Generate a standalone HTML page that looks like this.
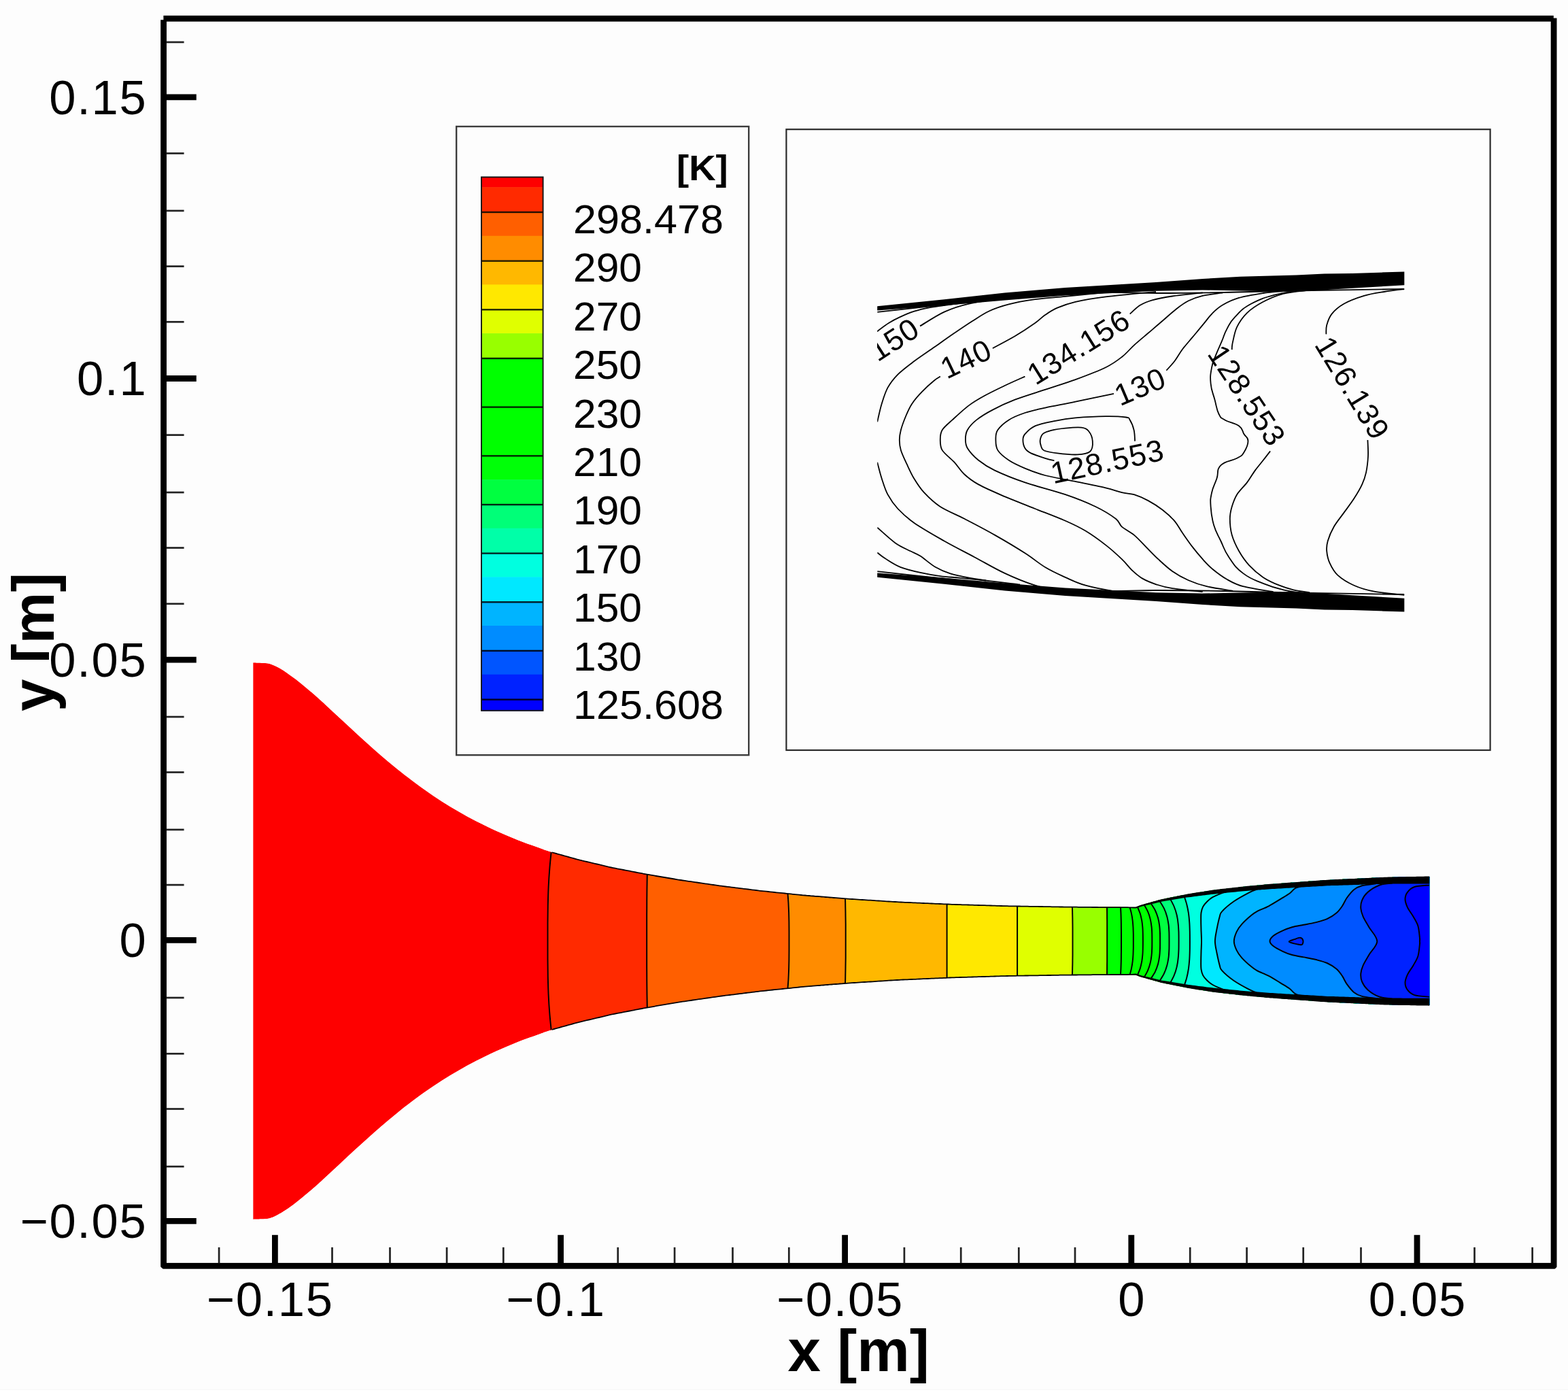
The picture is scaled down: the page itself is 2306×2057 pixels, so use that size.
<!DOCTYPE html>
<html lang="en"><head><meta charset="utf-8"><title>Nozzle temperature contours</title>
<style>html,body{margin:0;padding:0;background:#fdfdfd;overflow:hidden;width:2306px;height:2057px}svg{display:block;filter:blur(0.65px)}text{font-family:"Liberation Sans",Arial,Helvetica,sans-serif;fill:#000}.b{font-weight:bold}</style></head><body>
<svg width="2306" height="2057" viewBox="0 0 2306 2057" role="img" aria-label="Temperature contours in a converging-diverging nozzle">
<rect width="2306" height="2057" fill="#fdfdfd"/>
<rect x="0" y="2042.4" width="2306" height="1.6" fill="#f8f8f8"/>
<rect x="0" y="2044" width="2306" height="13" fill="#fff"/>
<defs><clipPath id="noz"><path d="M372.2 974.3 C374.2 974.4 380 974.5 384 974.7 C388 975 392 974.8 396 975.8 C400 976.8 404 978.8 408 980.8 C412 982.8 415.5 984.9 420 987.9 C424.5 990.9 430 995 435 998.8 C440 1002.6 445 1006.7 450 1010.9 C455 1015.1 460 1019.4 465 1023.8 C470 1028.2 474.2 1032 480 1037.4 C485.8 1042.8 493.3 1049.8 500 1056 C506.7 1062.2 513.3 1068.5 520 1074.6 C526.7 1080.7 533.3 1086.8 540 1092.8 C546.7 1098.8 553.3 1104.7 560 1110.4 C566.7 1116.1 573.3 1121.8 580 1127.2 C586.7 1132.7 592.5 1137.4 600 1143.1 C607.5 1148.8 616.7 1155.7 625 1161.6 C633.3 1167.5 641.7 1173.1 650 1178.4 C658.3 1183.7 666.7 1188.7 675 1193.5 C683.3 1198.3 690.8 1202.5 700 1207.2 C709.2 1211.9 720 1217.2 730 1221.7 C740 1226.2 750 1230.5 760 1234.5 C770 1238.5 781.5 1242.5 790 1245.5 C798.5 1248.5 801 1249.8 811 1252.8 C821 1255.8 835.2 1259.8 850 1263.6 C864.8 1267.4 883.3 1271.8 900 1275.4 C916.7 1279 933.3 1282.1 950 1285.1 C966.7 1288.1 981.7 1290.7 1000 1293.6 C1018.3 1296.5 1040 1299.6 1060 1302.3 C1080 1305 1100 1307.4 1120 1309.7 C1140 1312 1159.2 1314 1180 1315.9 C1200.8 1317.8 1221.7 1319.5 1245 1321.2 C1268.3 1322.9 1294.2 1324.6 1320 1326 C1345.8 1327.4 1373.3 1328.5 1400 1329.5 C1426.7 1330.5 1453.3 1331.3 1480 1331.9 C1506.7 1332.5 1536.7 1332.9 1560 1333.2 C1583.3 1333.5 1601.5 1333.7 1620 1333.8 C1638.5 1333.9 1662.5 1334 1671 1334 L1671 1334 C1672.2 1333.5 1671.8 1333.1 1678 1331.2 C1684.2 1329.3 1697.2 1325.4 1708.4 1322.7 C1719.7 1320 1733.1 1317.5 1745.5 1315.3 C1757.9 1313.1 1769 1311.1 1782.6 1309.3 C1796.2 1307.5 1813.1 1305.7 1827 1304.2 C1840.9 1302.8 1845 1302.2 1865.8 1300.6 C1886.6 1298.9 1923 1296 1951.6 1294.3 C1980.2 1292.6 2012.2 1291.2 2037.3 1290.3 C2062.4 1289.4 2091.4 1289.3 2102.2 1289.1 L2102.2 1478.1 C2091.4 1477.9 2062.4 1477.8 2037.3 1476.9 C2012.2 1476 1980.2 1474.6 1951.6 1472.9 C1923 1471.2 1886.6 1468.2 1865.8 1466.6 C1845 1464.9 1840.9 1464.4 1827 1463 C1813.1 1461.5 1796.2 1459.7 1782.6 1457.9 C1769 1456 1757.9 1454.1 1745.5 1451.9 C1733.1 1449.7 1719.7 1447.1 1708.4 1444.5 C1697.2 1441.8 1684.2 1437.9 1678 1436 C1671.8 1434.1 1672.2 1433.7 1671 1433.2 L1671 1433.2 C1662.5 1433.2 1638.5 1433.3 1620 1433.4 C1601.5 1433.5 1583.3 1433.7 1560 1434 C1536.7 1434.3 1506.7 1434.7 1480 1435.3 C1453.3 1435.9 1426.7 1436.7 1400 1437.7 C1373.3 1438.7 1345.8 1439.8 1320 1441.2 C1294.2 1442.6 1268.3 1444.3 1245 1446 C1221.7 1447.7 1200.8 1449.4 1180 1451.3 C1159.2 1453.2 1140 1455.2 1120 1457.5 C1100 1459.8 1080 1462.2 1060 1464.9 C1040 1467.6 1018.3 1470.7 1000 1473.6 C981.7 1476.5 966.7 1479.1 950 1482.1 C933.3 1485.1 916.7 1488.2 900 1491.8 C883.3 1495.4 864.8 1499.8 850 1503.6 C835.2 1507.4 821 1511.4 811 1514.4 C801 1517.4 798.5 1518.6 790 1521.7 C781.5 1524.7 770 1528.7 760 1532.7 C750 1536.7 740 1540.9 730 1545.5 C720 1550 709.2 1555.3 700 1560 C690.8 1564.7 683.3 1568.9 675 1573.7 C666.7 1578.5 658.3 1583.5 650 1588.8 C641.7 1594.1 633.3 1599.7 625 1605.6 C616.7 1611.5 607.5 1618.4 600 1624.1 C592.5 1629.8 586.7 1634.5 580 1640 C573.3 1645.4 566.7 1651.1 560 1656.8 C553.3 1662.5 546.7 1668.4 540 1674.4 C533.3 1680.4 526.7 1686.5 520 1692.6 C513.3 1698.7 506.7 1705 500 1711.2 C493.3 1717.4 485.8 1724.4 480 1729.8 C474.2 1735.2 470 1739 465 1743.4 C460 1747.8 455 1752.1 450 1756.3 C445 1760.5 440 1764.6 435 1768.4 C430 1772.2 424.5 1776.3 420 1779.3 C415.5 1782.3 412 1784.4 408 1786.4 C404 1788.4 400 1790.4 396 1791.4 C392 1792.4 388 1792.2 384 1792.5 C380 1792.7 374.2 1792.8 372.2 1792.9Z"/></clipPath></defs>
<g clip-path="url(#noz)">
<path d="M372.2 974.3 C374.2 974.4 380 974.5 384 974.7 C388 975 392 974.8 396 975.8 C400 976.8 404 978.8 408 980.8 C412 982.8 415.5 984.9 420 987.9 C424.5 990.9 430 995 435 998.8 C440 1002.6 445 1006.7 450 1010.9 C455 1015.1 460 1019.4 465 1023.8 C470 1028.2 474.2 1032 480 1037.4 C485.8 1042.8 493.3 1049.8 500 1056 C506.7 1062.2 513.3 1068.5 520 1074.6 C526.7 1080.7 533.3 1086.8 540 1092.8 C546.7 1098.8 553.3 1104.7 560 1110.4 C566.7 1116.1 573.3 1121.8 580 1127.2 C586.7 1132.7 592.5 1137.4 600 1143.1 C607.5 1148.8 616.7 1155.7 625 1161.6 C633.3 1167.5 641.7 1173.1 650 1178.4 C658.3 1183.7 666.7 1188.7 675 1193.5 C683.3 1198.3 690.8 1202.5 700 1207.2 C709.2 1211.9 720 1217.2 730 1221.7 C740 1226.2 750 1230.5 760 1234.5 C770 1238.5 781.5 1242.5 790 1245.5 C798.5 1248.5 801 1249.8 811 1252.8 C821 1255.8 835.2 1259.8 850 1263.6 C864.8 1267.4 883.3 1271.8 900 1275.4 C916.7 1279 933.3 1282.1 950 1285.1 C966.7 1288.1 981.7 1290.7 1000 1293.6 C1018.3 1296.5 1040 1299.6 1060 1302.3 C1080 1305 1100 1307.4 1120 1309.7 C1140 1312 1159.2 1314 1180 1315.9 C1200.8 1317.8 1221.7 1319.5 1245 1321.2 C1268.3 1322.9 1294.2 1324.6 1320 1326 C1345.8 1327.4 1373.3 1328.5 1400 1329.5 C1426.7 1330.5 1453.3 1331.3 1480 1331.9 C1506.7 1332.5 1536.7 1332.9 1560 1333.2 C1583.3 1333.5 1601.5 1333.7 1620 1333.8 C1638.5 1333.9 1662.5 1334 1671 1334 L1671 1334 C1672.2 1333.5 1671.8 1333.1 1678 1331.2 C1684.2 1329.3 1697.2 1325.4 1708.4 1322.7 C1719.7 1320 1733.1 1317.5 1745.5 1315.3 C1757.9 1313.1 1769 1311.1 1782.6 1309.3 C1796.2 1307.5 1813.1 1305.7 1827 1304.2 C1840.9 1302.8 1845 1302.2 1865.8 1300.6 C1886.6 1298.9 1923 1296 1951.6 1294.3 C1980.2 1292.6 2012.2 1291.2 2037.3 1290.3 C2062.4 1289.4 2091.4 1289.3 2102.2 1289.1 L2102.2 1478.1 C2091.4 1477.9 2062.4 1477.8 2037.3 1476.9 C2012.2 1476 1980.2 1474.6 1951.6 1472.9 C1923 1471.2 1886.6 1468.2 1865.8 1466.6 C1845 1464.9 1840.9 1464.4 1827 1463 C1813.1 1461.5 1796.2 1459.7 1782.6 1457.9 C1769 1456 1757.9 1454.1 1745.5 1451.9 C1733.1 1449.7 1719.7 1447.1 1708.4 1444.5 C1697.2 1441.8 1684.2 1437.9 1678 1436 C1671.8 1434.1 1672.2 1433.7 1671 1433.2 L1671 1433.2 C1662.5 1433.2 1638.5 1433.3 1620 1433.4 C1601.5 1433.5 1583.3 1433.7 1560 1434 C1536.7 1434.3 1506.7 1434.7 1480 1435.3 C1453.3 1435.9 1426.7 1436.7 1400 1437.7 C1373.3 1438.7 1345.8 1439.8 1320 1441.2 C1294.2 1442.6 1268.3 1444.3 1245 1446 C1221.7 1447.7 1200.8 1449.4 1180 1451.3 C1159.2 1453.2 1140 1455.2 1120 1457.5 C1100 1459.8 1080 1462.2 1060 1464.9 C1040 1467.6 1018.3 1470.7 1000 1473.6 C981.7 1476.5 966.7 1479.1 950 1482.1 C933.3 1485.1 916.7 1488.2 900 1491.8 C883.3 1495.4 864.8 1499.8 850 1503.6 C835.2 1507.4 821 1511.4 811 1514.4 C801 1517.4 798.5 1518.6 790 1521.7 C781.5 1524.7 770 1528.7 760 1532.7 C750 1536.7 740 1540.9 730 1545.5 C720 1550 709.2 1555.3 700 1560 C690.8 1564.7 683.3 1568.9 675 1573.7 C666.7 1578.5 658.3 1583.5 650 1588.8 C641.7 1594.1 633.3 1599.7 625 1605.6 C616.7 1611.5 607.5 1618.4 600 1624.1 C592.5 1629.8 586.7 1634.5 580 1640 C573.3 1645.4 566.7 1651.1 560 1656.8 C553.3 1662.5 546.7 1668.4 540 1674.4 C533.3 1680.4 526.7 1686.5 520 1692.6 C513.3 1698.7 506.7 1705 500 1711.2 C493.3 1717.4 485.8 1724.4 480 1729.8 C474.2 1735.2 470 1739 465 1743.4 C460 1747.8 455 1752.1 450 1756.3 C445 1760.5 440 1764.6 435 1768.4 C430 1772.2 424.5 1776.3 420 1779.3 C415.5 1782.3 412 1784.4 408 1786.4 C404 1788.4 400 1790.4 396 1791.4 C392 1792.4 388 1792.2 384 1792.5 C380 1792.7 374.2 1792.8 372.2 1792.9Z" fill="#fe0000"/>
<path d="M810.7 1252.7 C810.3 1257.1 808.8 1270.1 808.2 1278.9 C807.5 1287.6 807 1296.3 806.6 1305.1 C806.2 1313.8 806 1322.5 805.8 1331.2 C805.7 1340 805.6 1348.7 805.5 1357.4 C805.5 1366.1 805.5 1374.9 805.5 1383.6 C805.5 1392.3 805.5 1401.1 805.5 1409.8 C805.6 1418.5 805.7 1427.2 805.8 1436 C806 1444.7 806.2 1453.4 806.6 1462.1 C807 1470.9 807.5 1479.6 808.2 1488.3 C808.8 1497.1 810.3 1510.1 810.7 1514.5 L810.7 1650 L2200 1650 L2200 1150 L810.7 1150 Z" fill="#ff2a00"/>
<path d="M951.8 1285.4 C951.8 1288.7 951.6 1298.5 951.5 1305 C951.4 1311.6 951.4 1318.1 951.3 1324.7 C951.3 1331.2 951.3 1337.8 951.2 1344.3 C951.2 1350.9 951.2 1357.4 951.2 1364 C951.2 1370.5 951.2 1377.1 951.2 1383.6 C951.2 1390.1 951.2 1396.7 951.2 1403.2 C951.2 1409.8 951.2 1416.3 951.2 1422.9 C951.3 1429.4 951.3 1436 951.3 1442.5 C951.4 1449.1 951.4 1455.6 951.5 1462.2 C951.6 1468.7 951.8 1478.5 951.8 1481.8 L951.8 1650 L2200 1650 L2200 1150 L951.8 1150 Z" fill="#ff5f00"/>
<path d="M1158.5 1313.7 C1158.7 1316 1159.2 1323 1159.5 1327.7 C1159.7 1332.3 1159.9 1337 1160.1 1341.6 C1160.2 1346.3 1160.3 1351 1160.4 1355.6 C1160.4 1360.3 1160.5 1365 1160.5 1369.6 C1160.5 1374.3 1160.5 1378.9 1160.5 1383.6 C1160.5 1388.3 1160.5 1392.9 1160.5 1397.6 C1160.5 1402.2 1160.4 1406.9 1160.4 1411.6 C1160.3 1416.2 1160.2 1420.9 1160.1 1425.6 C1159.9 1430.2 1159.7 1434.9 1159.5 1439.5 C1159.2 1444.2 1158.7 1451.2 1158.5 1453.5 L1158.5 1650 L2200 1650 L2200 1150 L1158.5 1150 Z" fill="#ff8c00"/>
<path d="M1243 1321 C1243.1 1323.1 1243.3 1329.4 1243.3 1333.5 C1243.4 1337.7 1243.5 1341.9 1243.5 1346.1 C1243.6 1350.2 1243.6 1354.4 1243.7 1358.6 C1243.7 1362.7 1243.7 1366.9 1243.7 1371.1 C1243.7 1375.3 1243.7 1379.4 1243.7 1383.6 C1243.7 1387.8 1243.7 1391.9 1243.7 1396.1 C1243.7 1400.3 1243.7 1404.5 1243.7 1408.6 C1243.6 1412.8 1243.6 1417 1243.5 1421.1 C1243.5 1425.3 1243.4 1429.5 1243.3 1433.7 C1243.3 1437.8 1243.1 1444.1 1243 1446.2 L1243 1650 L2200 1650 L2200 1150 L1243 1150 Z" fill="#ffb800"/>
<path d="M1392.6 1329.2 C1392.6 1331 1392.6 1336.4 1392.6 1340.1 C1392.6 1343.7 1392.6 1347.3 1392.6 1350.9 C1392.6 1354.6 1392.6 1358.2 1392.6 1361.8 C1392.6 1365.5 1392.6 1369.1 1392.6 1372.7 C1392.6 1376.3 1392.6 1380 1392.6 1383.6 C1392.6 1387.2 1392.6 1390.9 1392.6 1394.5 C1392.6 1398.1 1392.6 1401.7 1392.6 1405.4 C1392.6 1409 1392.6 1412.6 1392.6 1416.3 C1392.6 1419.9 1392.6 1423.5 1392.6 1427.1 C1392.6 1430.8 1392.6 1436.2 1392.6 1438 L1392.6 1650 L2200 1650 L2200 1150 L1392.6 1150 Z" fill="#ffe800"/>
<path d="M1496.1 1332.2 C1496.1 1333.9 1496.1 1339 1496.1 1342.4 C1496.1 1345.9 1496.1 1349.3 1496.1 1352.7 C1496.1 1356.2 1496.1 1359.6 1496.1 1363 C1496.1 1366.5 1496.1 1369.9 1496.1 1373.3 C1496.1 1376.7 1496.1 1380.2 1496.1 1383.6 C1496.1 1387 1496.1 1390.5 1496.1 1393.9 C1496.1 1397.3 1496.1 1400.7 1496.1 1404.2 C1496.1 1407.6 1496.1 1411 1496.1 1414.5 C1496.1 1417.9 1496.1 1421.3 1496.1 1424.8 C1496.1 1428.2 1496.1 1433.3 1496.1 1435 L1496.1 1650 L2200 1650 L2200 1150 L1496.1 1150 Z" fill="#e0ff00"/>
<path d="M1577 1333.4 C1577 1335 1577.2 1340.1 1577.2 1343.4 C1577.3 1346.8 1577.4 1350.1 1577.4 1353.5 C1577.4 1356.8 1577.5 1360.2 1577.5 1363.5 C1577.5 1366.9 1577.5 1370.2 1577.5 1373.6 C1577.5 1376.9 1577.5 1380.3 1577.5 1383.6 C1577.5 1386.9 1577.5 1390.3 1577.5 1393.6 C1577.5 1397 1577.5 1400.3 1577.5 1403.7 C1577.5 1407 1577.4 1410.4 1577.4 1413.7 C1577.4 1417.1 1577.3 1420.4 1577.2 1423.8 C1577.2 1427.1 1577 1432.2 1577 1433.8 L1577 1650 L2200 1650 L2200 1150 L1577 1150 Z" fill="#98ff00"/>
<path d="M1628 1333.8 C1628 1335.5 1628.1 1340.5 1628.1 1343.8 C1628.1 1347.1 1628.1 1350.4 1628.2 1353.7 C1628.2 1357.1 1628.2 1360.4 1628.2 1363.7 C1628.2 1367 1628.2 1370.3 1628.2 1373.6 C1628.2 1377 1628.2 1380.3 1628.2 1383.6 C1628.2 1386.9 1628.2 1390.2 1628.2 1393.6 C1628.2 1396.9 1628.2 1400.2 1628.2 1403.5 C1628.2 1406.8 1628.2 1410.1 1628.2 1413.5 C1628.1 1416.8 1628.1 1420.1 1628.1 1423.4 C1628.1 1426.7 1628 1431.7 1628 1433.4 L1628 1650 L2200 1650 L2200 1150 L1628 1150 Z" fill="#00ff00"/>
<path d="M1648 1333.9 C1648.1 1335.6 1648.4 1340.5 1648.5 1343.8 C1648.6 1347.2 1648.7 1350.5 1648.8 1353.8 C1648.9 1357.1 1648.9 1360.4 1648.9 1363.7 C1649 1367 1649 1370.3 1649 1373.7 C1649 1377 1649 1380.3 1649 1383.6 C1649 1386.9 1649 1390.2 1649 1393.5 C1649 1396.9 1649 1400.2 1648.9 1403.5 C1648.9 1406.8 1648.9 1410.1 1648.8 1413.4 C1648.7 1416.7 1648.6 1420 1648.5 1423.4 C1648.4 1426.7 1648.1 1431.6 1648 1433.3 L1648 1650 L2200 1650 L2200 1150 L1648 1150 Z" fill="#00ff00"/>
<path d="M1661.6 1334 C1662 1335.6 1663.5 1340.6 1664.1 1343.9 C1664.8 1347.2 1665.3 1350.5 1665.7 1353.8 C1666.1 1357.1 1666.3 1360.4 1666.5 1363.7 C1666.6 1367.1 1666.7 1370.4 1666.8 1373.7 C1666.8 1377 1666.8 1380.3 1666.8 1383.6 C1666.8 1386.9 1666.8 1390.2 1666.8 1393.5 C1666.7 1396.8 1666.6 1400.1 1666.5 1403.5 C1666.3 1406.8 1666.1 1410.1 1665.7 1413.4 C1665.3 1416.7 1664.8 1420 1664.1 1423.3 C1663.5 1426.6 1662 1431.6 1661.6 1433.2 L1661.6 1650 L2200 1650 L2200 1150 L1661.6 1150 Z" fill="#00ff00"/>
<path d="M1672.8 1333.3 C1673.5 1335 1675.7 1340 1676.8 1343.3 C1677.8 1346.7 1678.5 1350.1 1679.2 1353.4 C1679.8 1356.8 1680.1 1360.1 1680.4 1363.5 C1680.7 1366.8 1680.7 1370.2 1680.8 1373.5 C1680.9 1376.9 1680.9 1380.2 1680.9 1383.6 C1680.9 1387 1680.9 1390.3 1680.8 1393.7 C1680.7 1397 1680.7 1400.4 1680.4 1403.7 C1680.1 1407.1 1679.8 1410.4 1679.2 1413.8 C1678.5 1417.1 1677.8 1420.5 1676.8 1423.9 C1675.7 1427.2 1673.5 1432.2 1672.8 1433.9 L1672.8 1650 L2200 1650 L2200 1150 L1672.8 1150 Z" fill="#00ff00"/>
<path d="M1682.4 1330 C1683.4 1331.8 1686.7 1337.1 1688.2 1340.7 C1689.8 1344.3 1690.8 1347.8 1691.7 1351.4 C1692.6 1355 1693.1 1358.6 1693.5 1362.1 C1694 1365.7 1694.1 1369.3 1694.2 1372.9 C1694.3 1376.4 1694.3 1380 1694.3 1383.6 C1694.3 1387.2 1694.3 1390.8 1694.2 1394.3 C1694.1 1397.9 1694 1401.5 1693.5 1405.1 C1693.1 1408.6 1692.6 1412.2 1691.7 1415.8 C1690.8 1419.4 1689.8 1422.9 1688.2 1426.5 C1686.7 1430.1 1683.4 1435.4 1682.4 1437.2 L1682.4 1650 L2200 1650 L2200 1150 L1682.4 1150 Z" fill="#00ff08"/>
<path d="M1692 1327.3 C1693.1 1329.2 1697 1334.8 1698.9 1338.5 C1700.7 1342.3 1702 1346.1 1703.1 1349.8 C1704.1 1353.6 1704.7 1357.3 1705.2 1361.1 C1705.7 1364.8 1705.8 1368.6 1706 1372.3 C1706.1 1376.1 1706.1 1379.8 1706.1 1383.6 C1706.1 1387.4 1706.1 1391.1 1706 1394.9 C1705.8 1398.6 1705.7 1402.4 1705.2 1406.1 C1704.7 1409.9 1704.1 1413.6 1703.1 1417.4 C1702 1421.1 1700.7 1424.9 1698.9 1428.7 C1697 1432.4 1693.1 1438 1692 1439.9 L1692 1650 L2200 1650 L2200 1150 L1692 1150 Z" fill="#00ff40"/>
<path d="M1704.7 1323.7 C1705.9 1325.7 1710 1331.7 1711.9 1335.7 C1713.9 1339.7 1715.2 1343.7 1716.3 1347.7 C1717.4 1351.7 1718 1355.7 1718.6 1359.7 C1719.1 1363.6 1719.2 1367.6 1719.4 1371.6 C1719.5 1375.6 1719.5 1379.6 1719.5 1383.6 C1719.5 1387.6 1719.5 1391.6 1719.4 1395.6 C1719.2 1399.6 1719.1 1403.6 1718.6 1407.5 C1718 1411.5 1717.4 1415.5 1716.3 1419.5 C1715.2 1423.5 1713.9 1427.5 1711.9 1431.5 C1710 1435.5 1705.9 1441.5 1704.7 1443.5 L1704.7 1650 L2200 1650 L2200 1150 L1704.7 1150 Z" fill="#00ff78"/>
<path d="M1720.2 1320.3 C1721.3 1322.5 1725 1328.8 1726.7 1333 C1728.5 1337.2 1729.7 1341.4 1730.7 1345.6 C1731.7 1349.9 1732.3 1354.1 1732.7 1358.3 C1733.2 1362.5 1733.3 1366.7 1733.5 1370.9 C1733.6 1375.2 1733.6 1379.4 1733.6 1383.6 C1733.6 1387.8 1733.6 1392 1733.5 1396.3 C1733.3 1400.5 1733.2 1404.7 1732.7 1408.9 C1732.3 1413.1 1731.7 1417.3 1730.7 1421.6 C1729.7 1425.8 1728.5 1430 1726.7 1434.2 C1725 1438.4 1721.3 1444.7 1720.2 1446.9 L1720.2 1650 L2200 1650 L2200 1150 L1720.2 1150 Z" fill="#00ffa8"/>
<path d="M1741 1316.2 C1741.7 1318.4 1744.2 1325.2 1745.3 1329.7 C1746.5 1334.2 1747.3 1338.7 1748 1343.2 C1748.6 1347.7 1749 1352.1 1749.3 1356.6 C1749.6 1361.1 1749.7 1365.6 1749.8 1370.1 C1749.9 1374.6 1749.9 1379.1 1749.9 1383.6 C1749.9 1388.1 1749.9 1392.6 1749.8 1397.1 C1749.7 1401.6 1749.6 1406.1 1749.3 1410.6 C1749 1415.1 1748.6 1419.5 1748 1424 C1747.3 1428.5 1746.5 1433 1745.3 1437.5 C1744.2 1442 1741.7 1448.8 1741 1451 L1741 1650 L2200 1650 L2200 1150 L1741 1150 Z" fill="#00ffe0"/>
<path d="M1803.3 1310.8 C1801.3 1311.6 1794.9 1313.8 1791.5 1315.3 C1788 1316.8 1785.3 1318 1782.6 1319.7 C1779.8 1321.5 1777.4 1323.4 1775.1 1325.7 C1772.9 1327.9 1770.6 1330.4 1769.2 1333.1 C1767.8 1335.8 1767 1338.5 1766.5 1342 C1766 1345.5 1766.2 1349.4 1766.2 1353.9 C1766.2 1358.3 1766.4 1363.7 1766.5 1368.7 C1766.7 1373.7 1767 1378.9 1767 1383.8 C1767 1388.8 1766.7 1393.6 1766.5 1398.5 C1766.4 1403.4 1766.2 1408.9 1766.2 1413.3 C1766.2 1417.8 1766 1421.7 1766.5 1425.2 C1767 1428.7 1767.8 1431.4 1769.2 1434.1 C1770.6 1436.8 1772.9 1439.3 1775.1 1441.5 C1777.4 1443.8 1779.8 1445.7 1782.6 1447.5 C1785.3 1449.2 1788 1450.4 1791.5 1451.9 C1794.9 1453.4 1801.3 1455.6 1803.3 1456.4 L1803.3 1650 L2200 1650 L2200 1150 L1803.3 1150 Z" fill="#00e8ff"/>
<path d="M1860.6 1304.6 C1858.6 1305 1852.6 1306.1 1848.6 1307.5 C1844.6 1308.8 1842.3 1309.6 1836.6 1312.6 C1830.9 1315.6 1820.9 1320.9 1814.3 1325.5 C1807.7 1330.1 1800.6 1336.3 1797.2 1340.1 C1793.7 1343.8 1795 1343.4 1793.7 1347.8 C1792.4 1352.2 1790.6 1360.6 1789.4 1366.7 C1788.3 1372.7 1786.9 1378.3 1786.9 1384 C1786.9 1389.6 1788.3 1394.6 1789.4 1400.5 C1790.6 1406.4 1792.4 1415 1793.7 1419.4 C1795 1423.8 1793.7 1423.4 1797.2 1427.1 C1800.6 1430.9 1807.7 1437.1 1814.3 1441.7 C1820.9 1446.3 1830.9 1451.6 1836.6 1454.6 C1842.3 1457.6 1844.6 1458.4 1848.6 1459.7 C1852.6 1461.1 1858.6 1462.2 1860.6 1462.6 L1860.6 1650 L2200 1650 L2200 1150 L1860.6 1150 Z" fill="#00b4ff"/>
<path d="M1931 1300.1 C1928.7 1300.5 1921.5 1301.4 1917.2 1302.3 C1913 1303.3 1908.7 1303.9 1905.2 1305.8 C1901.8 1307.6 1900.4 1310.8 1896.7 1313.5 C1892.9 1316.2 1888.1 1318.9 1882.9 1322.1 C1877.8 1325.2 1871.5 1329.3 1865.8 1332.3 C1860.1 1335.3 1852.9 1337.8 1848.6 1340.1 C1844.3 1342.4 1843.8 1342.9 1840 1346.1 C1836.3 1349.2 1829.9 1354.9 1826.3 1358.9 C1822.7 1362.9 1820.5 1365.9 1818.6 1370.1 C1816.7 1374.3 1814.8 1379.5 1814.8 1384 C1814.8 1388.5 1816.7 1393.1 1818.6 1397.1 C1820.5 1401.2 1822.7 1404.3 1826.3 1408.3 C1829.9 1412.3 1836.3 1418 1840 1421.1 C1843.8 1424.3 1844.3 1424.8 1848.6 1427.1 C1852.9 1429.4 1860.1 1431.9 1865.8 1434.9 C1871.5 1437.9 1877.8 1442 1882.9 1445.1 C1888.1 1448.3 1892.9 1451 1896.7 1453.7 C1900.4 1456.4 1901.8 1459.6 1905.2 1461.4 C1908.7 1463.3 1913 1463.9 1917.2 1464.9 C1921.5 1465.8 1928.7 1466.7 1931 1467.1 L1931 1650 L2200 1650 L2200 1150 L1931 1150 Z" fill="#008cff"/>
<path d="M2023.6 1299.2 C2020.2 1299.8 2008.5 1300.8 2003 1302.3 C1997.6 1303.8 1994.7 1305.3 1991 1308.3 C1987.3 1311.3 1983.6 1316.3 1980.7 1320.3 C1977.9 1324.3 1976.4 1328.6 1973.9 1332.3 C1971.3 1336.1 1969 1339.5 1965.3 1342.6 C1961.6 1345.8 1956.7 1348.9 1951.6 1351.2 C1946.4 1353.5 1940.1 1354.9 1934.4 1356.4 C1928.7 1357.8 1923 1358.7 1917.2 1359.8 C1911.5 1360.9 1905.2 1361.8 1900.1 1363.2 C1894.9 1364.7 1890.9 1366.2 1886.4 1368.4 C1881.8 1370.5 1875.8 1373.5 1872.6 1376.1 C1869.5 1378.7 1867.5 1381.5 1867.5 1384 C1867.5 1386.5 1869.5 1388.6 1872.6 1391.1 C1875.8 1393.6 1881.8 1396.7 1886.4 1398.8 C1890.9 1401 1894.9 1402.5 1900.1 1404 C1905.2 1405.4 1911.5 1406.3 1917.2 1407.4 C1923 1408.5 1928.7 1409.4 1934.4 1410.8 C1940.1 1412.3 1946.4 1413.7 1951.6 1416 C1956.7 1418.3 1961.6 1421.4 1965.3 1424.6 C1969 1427.7 1971.3 1431.1 1973.9 1434.9 C1976.4 1438.6 1977.9 1442.9 1980.7 1446.9 C1983.6 1450.9 1987.3 1455.9 1991 1458.9 C1994.7 1461.9 1997.6 1463.4 2003 1464.9 C2008.5 1466.4 2020.2 1467.4 2023.6 1468 L2023.6 1650 L2200 1650 L2200 1150 L2023.6 1150 Z" fill="#0055ff"/>
<path d="M2047.6 1298.6 C2044.5 1299 2034.8 1299.3 2028.8 1301.5 C2022.8 1303.7 2015.9 1308 2011.6 1311.8 C2007.3 1315.5 2004.7 1319.8 2003 1323.8 C2001.3 1327.8 2001 1331.8 2001.3 1335.8 C2001.6 1339.8 2002.7 1343.2 2004.7 1347.8 C2006.7 1352.4 2009.9 1357.2 2013.3 1363.2 C2016.7 1369.3 2025.3 1377.2 2025.3 1384 C2025.3 1390.8 2016.7 1398.1 2013.3 1404 C2009.9 1409.9 2006.7 1414.8 2004.7 1419.4 C2002.7 1424 2001.6 1427.4 2001.3 1431.4 C2001 1435.4 2001.3 1439.4 2003 1443.4 C2004.7 1447.4 2007.3 1451.7 2011.6 1455.4 C2015.9 1459.2 2022.8 1463.5 2028.8 1465.7 C2034.8 1467.9 2044.5 1468.2 2047.6 1468.6 L2047.6 1650 L2200 1650 L2200 1150 L2047.6 1150 Z" fill="#0022ff"/>
<path d="M2102.2 1301.5 C2098.5 1301.9 2085.6 1302.3 2080.2 1304 C2074.8 1305.8 2072.2 1308.8 2069.9 1311.8 C2067.6 1314.8 2066.5 1318.3 2066.5 1322.1 C2066.5 1325.8 2067.9 1329.8 2069.9 1334.1 C2071.9 1338.4 2075.9 1343.2 2078.5 1347.8 C2081.1 1352.4 2083.8 1356.4 2085.4 1361.5 C2086.9 1366.7 2087.5 1374.9 2087.9 1378.7 C2088.4 1382.4 2087.9 1382.3 2087.9 1384 C2087.9 1385.6 2088.4 1384.9 2087.9 1388.5 C2087.5 1392.2 2086.9 1400.5 2085.4 1405.7 C2083.8 1410.8 2081.1 1414.8 2078.5 1419.4 C2075.9 1424 2071.9 1428.8 2069.9 1433.1 C2067.9 1437.4 2066.5 1441.4 2066.5 1445.1 C2066.5 1448.9 2067.6 1452.4 2069.9 1455.4 C2072.2 1458.4 2074.8 1461.4 2080.2 1463.2 C2085.6 1464.9 2098.5 1465.3 2102.2 1465.7 L2102.2 1650 L2200 1650 L2200 1150 L2102.2 1150 Z" fill="#0000ff"/>
</g>
<g fill="none" stroke="#000" stroke-width="1.95" stroke-linejoin="round" clip-path="url(#noz)">
<path d="M810.7 1252.7 C810.3 1257.1 808.8 1270.1 808.2 1278.9 C807.5 1287.6 807 1296.3 806.6 1305.1 C806.2 1313.8 806 1322.5 805.8 1331.2 C805.7 1340 805.6 1348.7 805.5 1357.4 C805.5 1366.1 805.5 1374.9 805.5 1383.6 C805.5 1392.3 805.5 1401.1 805.5 1409.8 C805.6 1418.5 805.7 1427.2 805.8 1436 C806 1444.7 806.2 1453.4 806.6 1462.1 C807 1470.9 807.5 1479.6 808.2 1488.3 C808.8 1497.1 810.3 1510.1 810.7 1514.5"/>
<path d="M951.8 1285.4 C951.8 1288.7 951.6 1298.5 951.5 1305 C951.4 1311.6 951.4 1318.1 951.3 1324.7 C951.3 1331.2 951.3 1337.8 951.2 1344.3 C951.2 1350.9 951.2 1357.4 951.2 1364 C951.2 1370.5 951.2 1377.1 951.2 1383.6 C951.2 1390.1 951.2 1396.7 951.2 1403.2 C951.2 1409.8 951.2 1416.3 951.2 1422.9 C951.3 1429.4 951.3 1436 951.3 1442.5 C951.4 1449.1 951.4 1455.6 951.5 1462.2 C951.6 1468.7 951.8 1478.5 951.8 1481.8"/>
<path d="M1158.5 1313.7 C1158.7 1316 1159.2 1323 1159.5 1327.7 C1159.7 1332.3 1159.9 1337 1160.1 1341.6 C1160.2 1346.3 1160.3 1351 1160.4 1355.6 C1160.4 1360.3 1160.5 1365 1160.5 1369.6 C1160.5 1374.3 1160.5 1378.9 1160.5 1383.6 C1160.5 1388.3 1160.5 1392.9 1160.5 1397.6 C1160.5 1402.2 1160.4 1406.9 1160.4 1411.6 C1160.3 1416.2 1160.2 1420.9 1160.1 1425.6 C1159.9 1430.2 1159.7 1434.9 1159.5 1439.5 C1159.2 1444.2 1158.7 1451.2 1158.5 1453.5"/>
<path d="M1243 1321 C1243.1 1323.1 1243.3 1329.4 1243.3 1333.5 C1243.4 1337.7 1243.5 1341.9 1243.5 1346.1 C1243.6 1350.2 1243.6 1354.4 1243.7 1358.6 C1243.7 1362.7 1243.7 1366.9 1243.7 1371.1 C1243.7 1375.3 1243.7 1379.4 1243.7 1383.6 C1243.7 1387.8 1243.7 1391.9 1243.7 1396.1 C1243.7 1400.3 1243.7 1404.5 1243.7 1408.6 C1243.6 1412.8 1243.6 1417 1243.5 1421.1 C1243.5 1425.3 1243.4 1429.5 1243.3 1433.7 C1243.3 1437.8 1243.1 1444.1 1243 1446.2"/>
<path d="M1392.6 1329.2 C1392.6 1331 1392.6 1336.4 1392.6 1340.1 C1392.6 1343.7 1392.6 1347.3 1392.6 1350.9 C1392.6 1354.6 1392.6 1358.2 1392.6 1361.8 C1392.6 1365.5 1392.6 1369.1 1392.6 1372.7 C1392.6 1376.3 1392.6 1380 1392.6 1383.6 C1392.6 1387.2 1392.6 1390.9 1392.6 1394.5 C1392.6 1398.1 1392.6 1401.7 1392.6 1405.4 C1392.6 1409 1392.6 1412.6 1392.6 1416.3 C1392.6 1419.9 1392.6 1423.5 1392.6 1427.1 C1392.6 1430.8 1392.6 1436.2 1392.6 1438"/>
<path d="M1496.1 1332.2 C1496.1 1333.9 1496.1 1339 1496.1 1342.4 C1496.1 1345.9 1496.1 1349.3 1496.1 1352.7 C1496.1 1356.2 1496.1 1359.6 1496.1 1363 C1496.1 1366.5 1496.1 1369.9 1496.1 1373.3 C1496.1 1376.7 1496.1 1380.2 1496.1 1383.6 C1496.1 1387 1496.1 1390.5 1496.1 1393.9 C1496.1 1397.3 1496.1 1400.7 1496.1 1404.2 C1496.1 1407.6 1496.1 1411 1496.1 1414.5 C1496.1 1417.9 1496.1 1421.3 1496.1 1424.8 C1496.1 1428.2 1496.1 1433.3 1496.1 1435"/>
<path d="M1577 1333.4 C1577 1335 1577.2 1340.1 1577.2 1343.4 C1577.3 1346.8 1577.4 1350.1 1577.4 1353.5 C1577.4 1356.8 1577.5 1360.2 1577.5 1363.5 C1577.5 1366.9 1577.5 1370.2 1577.5 1373.6 C1577.5 1376.9 1577.5 1380.3 1577.5 1383.6 C1577.5 1386.9 1577.5 1390.3 1577.5 1393.6 C1577.5 1397 1577.5 1400.3 1577.5 1403.7 C1577.5 1407 1577.4 1410.4 1577.4 1413.7 C1577.4 1417.1 1577.3 1420.4 1577.2 1423.8 C1577.2 1427.1 1577 1432.2 1577 1433.8"/>
<path d="M1628 1333.8 C1628 1335.5 1628.1 1340.5 1628.1 1343.8 C1628.1 1347.1 1628.1 1350.4 1628.2 1353.7 C1628.2 1357.1 1628.2 1360.4 1628.2 1363.7 C1628.2 1367 1628.2 1370.3 1628.2 1373.6 C1628.2 1377 1628.2 1380.3 1628.2 1383.6 C1628.2 1386.9 1628.2 1390.2 1628.2 1393.6 C1628.2 1396.9 1628.2 1400.2 1628.2 1403.5 C1628.2 1406.8 1628.2 1410.1 1628.2 1413.5 C1628.1 1416.8 1628.1 1420.1 1628.1 1423.4 C1628.1 1426.7 1628 1431.7 1628 1433.4"/>
<path d="M1648 1333.9 C1648.1 1335.6 1648.4 1340.5 1648.5 1343.8 C1648.6 1347.2 1648.7 1350.5 1648.8 1353.8 C1648.9 1357.1 1648.9 1360.4 1648.9 1363.7 C1649 1367 1649 1370.3 1649 1373.7 C1649 1377 1649 1380.3 1649 1383.6 C1649 1386.9 1649 1390.2 1649 1393.5 C1649 1396.9 1649 1400.2 1648.9 1403.5 C1648.9 1406.8 1648.9 1410.1 1648.8 1413.4 C1648.7 1416.7 1648.6 1420 1648.5 1423.4 C1648.4 1426.7 1648.1 1431.6 1648 1433.3"/>
<path d="M1661.6 1334 C1662 1335.6 1663.5 1340.6 1664.1 1343.9 C1664.8 1347.2 1665.3 1350.5 1665.7 1353.8 C1666.1 1357.1 1666.3 1360.4 1666.5 1363.7 C1666.6 1367.1 1666.7 1370.4 1666.8 1373.7 C1666.8 1377 1666.8 1380.3 1666.8 1383.6 C1666.8 1386.9 1666.8 1390.2 1666.8 1393.5 C1666.7 1396.8 1666.6 1400.1 1666.5 1403.5 C1666.3 1406.8 1666.1 1410.1 1665.7 1413.4 C1665.3 1416.7 1664.8 1420 1664.1 1423.3 C1663.5 1426.6 1662 1431.6 1661.6 1433.2"/>
<path d="M1672.8 1333.3 C1673.5 1335 1675.7 1340 1676.8 1343.3 C1677.8 1346.7 1678.5 1350.1 1679.2 1353.4 C1679.8 1356.8 1680.1 1360.1 1680.4 1363.5 C1680.7 1366.8 1680.7 1370.2 1680.8 1373.5 C1680.9 1376.9 1680.9 1380.2 1680.9 1383.6 C1680.9 1387 1680.9 1390.3 1680.8 1393.7 C1680.7 1397 1680.7 1400.4 1680.4 1403.7 C1680.1 1407.1 1679.8 1410.4 1679.2 1413.8 C1678.5 1417.1 1677.8 1420.5 1676.8 1423.9 C1675.7 1427.2 1673.5 1432.2 1672.8 1433.9"/>
<path d="M1682.4 1330 C1683.4 1331.8 1686.7 1337.1 1688.2 1340.7 C1689.8 1344.3 1690.8 1347.8 1691.7 1351.4 C1692.6 1355 1693.1 1358.6 1693.5 1362.1 C1694 1365.7 1694.1 1369.3 1694.2 1372.9 C1694.3 1376.4 1694.3 1380 1694.3 1383.6 C1694.3 1387.2 1694.3 1390.8 1694.2 1394.3 C1694.1 1397.9 1694 1401.5 1693.5 1405.1 C1693.1 1408.6 1692.6 1412.2 1691.7 1415.8 C1690.8 1419.4 1689.8 1422.9 1688.2 1426.5 C1686.7 1430.1 1683.4 1435.4 1682.4 1437.2"/>
<path d="M1692 1327.3 C1693.1 1329.2 1697 1334.8 1698.9 1338.5 C1700.7 1342.3 1702 1346.1 1703.1 1349.8 C1704.1 1353.6 1704.7 1357.3 1705.2 1361.1 C1705.7 1364.8 1705.8 1368.6 1706 1372.3 C1706.1 1376.1 1706.1 1379.8 1706.1 1383.6 C1706.1 1387.4 1706.1 1391.1 1706 1394.9 C1705.8 1398.6 1705.7 1402.4 1705.2 1406.1 C1704.7 1409.9 1704.1 1413.6 1703.1 1417.4 C1702 1421.1 1700.7 1424.9 1698.9 1428.7 C1697 1432.4 1693.1 1438 1692 1439.9"/>
<path d="M1704.7 1323.7 C1705.9 1325.7 1710 1331.7 1711.9 1335.7 C1713.9 1339.7 1715.2 1343.7 1716.3 1347.7 C1717.4 1351.7 1718 1355.7 1718.6 1359.7 C1719.1 1363.6 1719.2 1367.6 1719.4 1371.6 C1719.5 1375.6 1719.5 1379.6 1719.5 1383.6 C1719.5 1387.6 1719.5 1391.6 1719.4 1395.6 C1719.2 1399.6 1719.1 1403.6 1718.6 1407.5 C1718 1411.5 1717.4 1415.5 1716.3 1419.5 C1715.2 1423.5 1713.9 1427.5 1711.9 1431.5 C1710 1435.5 1705.9 1441.5 1704.7 1443.5"/>
<path d="M1720.2 1320.3 C1721.3 1322.5 1725 1328.8 1726.7 1333 C1728.5 1337.2 1729.7 1341.4 1730.7 1345.6 C1731.7 1349.9 1732.3 1354.1 1732.7 1358.3 C1733.2 1362.5 1733.3 1366.7 1733.5 1370.9 C1733.6 1375.2 1733.6 1379.4 1733.6 1383.6 C1733.6 1387.8 1733.6 1392 1733.5 1396.3 C1733.3 1400.5 1733.2 1404.7 1732.7 1408.9 C1732.3 1413.1 1731.7 1417.3 1730.7 1421.6 C1729.7 1425.8 1728.5 1430 1726.7 1434.2 C1725 1438.4 1721.3 1444.7 1720.2 1446.9"/>
<path d="M1741 1316.2 C1741.7 1318.4 1744.2 1325.2 1745.3 1329.7 C1746.5 1334.2 1747.3 1338.7 1748 1343.2 C1748.6 1347.7 1749 1352.1 1749.3 1356.6 C1749.6 1361.1 1749.7 1365.6 1749.8 1370.1 C1749.9 1374.6 1749.9 1379.1 1749.9 1383.6 C1749.9 1388.1 1749.9 1392.6 1749.8 1397.1 C1749.7 1401.6 1749.6 1406.1 1749.3 1410.6 C1749 1415.1 1748.6 1419.5 1748 1424 C1747.3 1428.5 1746.5 1433 1745.3 1437.5 C1744.2 1442 1741.7 1448.8 1741 1451"/>
<path d="M1803.3 1310.8 C1801.3 1311.6 1794.9 1313.8 1791.5 1315.3 C1788 1316.8 1785.3 1318 1782.6 1319.7 C1779.8 1321.5 1777.4 1323.4 1775.1 1325.7 C1772.9 1327.9 1770.6 1330.4 1769.2 1333.1 C1767.8 1335.8 1767 1338.5 1766.5 1342 C1766 1345.5 1766.2 1349.4 1766.2 1353.9 C1766.2 1358.3 1766.4 1363.7 1766.5 1368.7 C1766.7 1373.7 1767 1378.9 1767 1383.8 C1767 1388.8 1766.7 1393.6 1766.5 1398.5 C1766.4 1403.4 1766.2 1408.9 1766.2 1413.3 C1766.2 1417.8 1766 1421.7 1766.5 1425.2 C1767 1428.7 1767.8 1431.4 1769.2 1434.1 C1770.6 1436.8 1772.9 1439.3 1775.1 1441.5 C1777.4 1443.8 1779.8 1445.7 1782.6 1447.5 C1785.3 1449.2 1788 1450.4 1791.5 1451.9 C1794.9 1453.4 1801.3 1455.6 1803.3 1456.4"/>
<path d="M1860.6 1304.6 C1858.6 1305 1852.6 1306.1 1848.6 1307.5 C1844.6 1308.8 1842.3 1309.6 1836.6 1312.6 C1830.9 1315.6 1820.9 1320.9 1814.3 1325.5 C1807.7 1330.1 1800.6 1336.3 1797.2 1340.1 C1793.7 1343.8 1795 1343.4 1793.7 1347.8 C1792.4 1352.2 1790.6 1360.6 1789.4 1366.7 C1788.3 1372.7 1786.9 1378.3 1786.9 1384 C1786.9 1389.6 1788.3 1394.6 1789.4 1400.5 C1790.6 1406.4 1792.4 1415 1793.7 1419.4 C1795 1423.8 1793.7 1423.4 1797.2 1427.1 C1800.6 1430.9 1807.7 1437.1 1814.3 1441.7 C1820.9 1446.3 1830.9 1451.6 1836.6 1454.6 C1842.3 1457.6 1844.6 1458.4 1848.6 1459.7 C1852.6 1461.1 1858.6 1462.2 1860.6 1462.6"/>
<path d="M1931 1300.1 C1928.7 1300.5 1921.5 1301.4 1917.2 1302.3 C1913 1303.3 1908.7 1303.9 1905.2 1305.8 C1901.8 1307.6 1900.4 1310.8 1896.7 1313.5 C1892.9 1316.2 1888.1 1318.9 1882.9 1322.1 C1877.8 1325.2 1871.5 1329.3 1865.8 1332.3 C1860.1 1335.3 1852.9 1337.8 1848.6 1340.1 C1844.3 1342.4 1843.8 1342.9 1840 1346.1 C1836.3 1349.2 1829.9 1354.9 1826.3 1358.9 C1822.7 1362.9 1820.5 1365.9 1818.6 1370.1 C1816.7 1374.3 1814.8 1379.5 1814.8 1384 C1814.8 1388.5 1816.7 1393.1 1818.6 1397.1 C1820.5 1401.2 1822.7 1404.3 1826.3 1408.3 C1829.9 1412.3 1836.3 1418 1840 1421.1 C1843.8 1424.3 1844.3 1424.8 1848.6 1427.1 C1852.9 1429.4 1860.1 1431.9 1865.8 1434.9 C1871.5 1437.9 1877.8 1442 1882.9 1445.1 C1888.1 1448.3 1892.9 1451 1896.7 1453.7 C1900.4 1456.4 1901.8 1459.6 1905.2 1461.4 C1908.7 1463.3 1913 1463.9 1917.2 1464.9 C1921.5 1465.8 1928.7 1466.7 1931 1467.1"/>
<path d="M2023.6 1299.2 C2020.2 1299.8 2008.5 1300.8 2003 1302.3 C1997.6 1303.8 1994.7 1305.3 1991 1308.3 C1987.3 1311.3 1983.6 1316.3 1980.7 1320.3 C1977.9 1324.3 1976.4 1328.6 1973.9 1332.3 C1971.3 1336.1 1969 1339.5 1965.3 1342.6 C1961.6 1345.8 1956.7 1348.9 1951.6 1351.2 C1946.4 1353.5 1940.1 1354.9 1934.4 1356.4 C1928.7 1357.8 1923 1358.7 1917.2 1359.8 C1911.5 1360.9 1905.2 1361.8 1900.1 1363.2 C1894.9 1364.7 1890.9 1366.2 1886.4 1368.4 C1881.8 1370.5 1875.8 1373.5 1872.6 1376.1 C1869.5 1378.7 1867.5 1381.5 1867.5 1384 C1867.5 1386.5 1869.5 1388.6 1872.6 1391.1 C1875.8 1393.6 1881.8 1396.7 1886.4 1398.8 C1890.9 1401 1894.9 1402.5 1900.1 1404 C1905.2 1405.4 1911.5 1406.3 1917.2 1407.4 C1923 1408.5 1928.7 1409.4 1934.4 1410.8 C1940.1 1412.3 1946.4 1413.7 1951.6 1416 C1956.7 1418.3 1961.6 1421.4 1965.3 1424.6 C1969 1427.7 1971.3 1431.1 1973.9 1434.9 C1976.4 1438.6 1977.9 1442.9 1980.7 1446.9 C1983.6 1450.9 1987.3 1455.9 1991 1458.9 C1994.7 1461.9 1997.6 1463.4 2003 1464.9 C2008.5 1466.4 2020.2 1467.4 2023.6 1468"/>
<path d="M2047.6 1298.6 C2044.5 1299 2034.8 1299.3 2028.8 1301.5 C2022.8 1303.7 2015.9 1308 2011.6 1311.8 C2007.3 1315.5 2004.7 1319.8 2003 1323.8 C2001.3 1327.8 2001 1331.8 2001.3 1335.8 C2001.6 1339.8 2002.7 1343.2 2004.7 1347.8 C2006.7 1352.4 2009.9 1357.2 2013.3 1363.2 C2016.7 1369.3 2025.3 1377.2 2025.3 1384 C2025.3 1390.8 2016.7 1398.1 2013.3 1404 C2009.9 1409.9 2006.7 1414.8 2004.7 1419.4 C2002.7 1424 2001.6 1427.4 2001.3 1431.4 C2001 1435.4 2001.3 1439.4 2003 1443.4 C2004.7 1447.4 2007.3 1451.7 2011.6 1455.4 C2015.9 1459.2 2022.8 1463.5 2028.8 1465.7 C2034.8 1467.9 2044.5 1468.2 2047.6 1468.6"/>
<path d="M2102.2 1301.5 C2098.5 1301.9 2085.6 1302.3 2080.2 1304 C2074.8 1305.8 2072.2 1308.8 2069.9 1311.8 C2067.6 1314.8 2066.5 1318.3 2066.5 1322.1 C2066.5 1325.8 2067.9 1329.8 2069.9 1334.1 C2071.9 1338.4 2075.9 1343.2 2078.5 1347.8 C2081.1 1352.4 2083.8 1356.4 2085.4 1361.5 C2086.9 1366.7 2087.5 1374.9 2087.9 1378.7 C2088.4 1382.4 2087.9 1382.3 2087.9 1384 C2087.9 1385.6 2088.4 1384.9 2087.9 1388.5 C2087.5 1392.2 2086.9 1400.5 2085.4 1405.7 C2083.8 1410.8 2081.1 1414.8 2078.5 1419.4 C2075.9 1424 2071.9 1428.8 2069.9 1433.1 C2067.9 1437.4 2066.5 1441.4 2066.5 1445.1 C2066.5 1448.9 2067.6 1452.4 2069.9 1455.4 C2072.2 1458.4 2074.8 1461.4 2080.2 1463.2 C2085.6 1464.9 2098.5 1465.3 2102.2 1465.7"/>
<path d="M1895.8 1384.7 C1895.2 1383.5 1900.8 1382.2 1903.5 1381.2 C1906.2 1380.2 1910 1378.4 1912.1 1378.7 C1914.2 1379 1916 1381.2 1916.4 1383 C1916.8 1384.7 1916.2 1388.1 1914.7 1389 C1913.1 1389.8 1910.1 1388.8 1907 1388.1 C1903.8 1387.4 1896.4 1385.8 1895.8 1384.7Z" stroke-width="1.9" fill="#0022ff"/>
</g>
<path d="M812 1252.5 L815 1253.3 L818 1254.1 L821 1255 L824 1255.8 L827 1256.6 L830 1257.5 L833 1258.3 L836 1259.1 L839 1260 L842 1260.8 L845 1261.6 L848 1262.4 L851 1263.2 L854 1263.9 L857 1264.7 L860 1265.4 L863 1266.1 L866 1266.8 L869 1267.5 L872 1268.2 L875 1268.9 L878 1269.6 L881 1270.3 L884 1271 L887 1271.7 L890 1272.4 L893 1273.2 L896 1273.9 L899 1274.6 L902 1275.2 L905 1275.8 L908 1276.4 L911 1276.9 L914 1277.5 L917 1278.1 L920 1278.7 L923 1279.3 L926 1279.8 L929 1280.4 L932 1281 L935 1281.6 L938 1282.2 L941 1282.8 L944 1283.3 L947 1283.9 L950 1284.5 L953 1285 L956 1285.5 L959 1286 L962 1286.5 L965 1287.1 L968 1287.6 L971 1288.1 L974 1288.6 L977 1289.1 L980 1289.6 L983 1290.1 L986 1290.6 L989 1291.1 L992 1291.6 L995 1292.2 L998 1292.7 L1001 1293.1 L1004 1293.6 L1007 1294 L1010 1294.5 L1013 1294.9 L1016 1295.3 L1019 1295.8 L1022 1296.2 L1025 1296.6 L1028 1297.1 L1031 1297.5 L1034 1297.9 L1037 1298.4 L1040 1298.8 L1043 1299.2 L1046 1299.7 L1049 1300.1 L1052 1300.5 L1055 1301 L1058 1301.4 L1061 1301.8 L1064 1302.2 L1067 1302.6 L1070 1302.9 L1073 1303.3 L1076 1303.7 L1079 1304 L1082 1304.4 L1085 1304.8 L1088 1305.2 L1091 1305.5 L1094 1305.9 L1097 1306.3 L1100 1306.6 L1103 1307 L1106 1307.4 L1109 1307.7 L1112 1308.1 L1115 1308.5 L1118 1308.9 L1121 1309.2 L1124 1309.5 L1127 1309.8 L1130 1310.1 L1133 1310.4 L1136.1 1310.8 L1139.1 1311.1 L1142.1 1311.4 L1145.1 1311.7 L1148.1 1312 L1151.1 1312.3 L1154.1 1312.6 L1157.1 1312.9 L1160.1 1313.2 L1163.1 1313.5 L1166.1 1313.9 L1169.1 1314.2 L1172.1 1314.5 L1175.1 1314.8 L1178.1 1315.1 L1181.1 1315.4 L1184.1 1315.6 L1187.1 1315.9 L1190.1 1316.1 L1193.1 1316.4 L1196.1 1316.6 L1199.1 1316.9 L1202.1 1317.1 L1205.1 1317.3 L1208.1 1317.6 L1211.1 1317.8 L1214.1 1318.1 L1217.1 1318.3 L1220.1 1318.6 L1223.1 1318.8 L1226.1 1319.1 L1229.1 1319.3 L1232.1 1319.5 L1235.1 1319.8 L1238.1 1320 L1241.1 1320.3 L1244.1 1320.5 L1247.1 1320.7 L1250.1 1320.9 L1253.1 1321.1 L1256.1 1321.3 L1259.1 1321.5 L1262.1 1321.7 L1265.1 1321.9 L1268.1 1322.1 L1271.1 1322.3 L1274.1 1322.5 L1277.1 1322.7 L1280.1 1322.8 L1283.1 1323 L1286.1 1323.2 L1289.1 1323.4 L1292.1 1323.6 L1295.1 1323.8 L1298.1 1324 L1301.1 1324.2 L1304.1 1324.4 L1307.1 1324.6 L1310.1 1324.8 L1313.1 1325 L1316.1 1325.1 L1319.1 1325.3 L1322.1 1325.5 L1325.1 1325.6 L1328.1 1325.8 L1331.1 1325.9 L1334.1 1326 L1337.1 1326.1 L1340.1 1326.3 L1343.1 1326.4 L1346.1 1326.5 L1349.1 1326.7 L1352.1 1326.8 L1355.1 1326.9 L1358.1 1327.1 L1361.1 1327.2 L1364.1 1327.3 L1367.1 1327.5 L1370.1 1327.6 L1373.1 1327.7 L1376.1 1327.9 L1379.1 1328 L1382.1 1328.1 L1385.1 1328.2 L1388.1 1328.4 L1391.1 1328.5 L1394.1 1328.6 L1397.1 1328.8 L1400.1 1328.9 L1403.1 1329 L1406.1 1329.1 L1409.1 1329.2 L1412.1 1329.3 L1415.1 1329.4 L1418.1 1329.4 L1421.1 1329.5 L1424.1 1329.6 L1427.1 1329.7 L1430.1 1329.8 L1433.1 1329.9 L1436.1 1330 L1439.1 1330.1 L1442.1 1330.2 L1445.1 1330.3 L1448.1 1330.3 L1451.1 1330.4 L1454.1 1330.5 L1457.1 1330.6 L1460.1 1330.7 L1463.1 1330.8 L1466.1 1330.9 L1469.1 1331 L1472.1 1331.1 L1475.1 1331.2 L1478.1 1331.2 L1481.1 1331.3 L1484.1 1331.4 L1487.1 1331.4 L1490.1 1331.5 L1493.1 1331.5 L1496.1 1331.6 L1499.1 1331.6 L1502.1 1331.7 L1505.1 1331.7 L1508.1 1331.8 L1511.1 1331.8 L1514.1 1331.9 L1517.1 1331.9 L1520.1 1332 L1523.1 1332 L1526.1 1332 L1529.1 1332.1 L1532.1 1332.1 L1535.1 1332.2 L1538.1 1332.2 L1541.1 1332.3 L1544.1 1332.3 L1547.1 1332.4 L1550.1 1332.4 L1553.1 1332.5 L1556.1 1332.5 L1559.1 1332.6 L1562.1 1332.6 L1565.1 1332.7 L1568.1 1332.7 L1571.1 1332.7 L1574.1 1332.7 L1577.1 1332.8 L1580.1 1332.8 L1583.1 1332.8 L1586.1 1332.9 L1589.1 1332.9 L1592.1 1332.9 L1595.1 1333 L1598.1 1333 L1601.1 1333 L1604.1 1333 L1607.1 1333.1 L1610.1 1333.1 L1613.1 1333.1 L1616.1 1333.2 L1619.1 1333.2 L1622.1 1333.2 L1625.1 1333.2 L1628.1 1333.2 L1631.1 1333.2 L1634.1 1333.3 L1637.1 1333.3 L1640.1 1333.3 L1643.1 1333.3 L1646.1 1333.3 L1649.1 1333.3 L1652.1 1333.3 L1655.1 1333.3 L1658.1 1333.3 L1661.1 1333.4 L1664.1 1333.4 L1667.1 1333.4 L1670.1 1333.4 L1673.1 1332.5 L1676.1 1331.3 L1679.1 1330.3 L1682.1 1329.4 L1685.1 1328.6 L1688.1 1327.8 L1691.1 1326.9 L1694.1 1326.1 L1697.1 1325.2 L1700.1 1324.4 L1703.1 1323.6 L1706.1 1322.7 L1709.1 1322 L1712.1 1321.4 L1715.1 1320.8 L1718.1 1320.2 L1721.1 1319.6 L1724.1 1319 L1727.1 1318.4 L1730.1 1317.8 L1733.1 1317.2 L1736.1 1316.6 L1739.1 1316 L1742.1 1315.4 L1745.1 1314.8 L1748.1 1314.3 L1751.1 1313.8 L1754.1 1313.3 L1757.1 1312.8 L1760.1 1312.3 L1763.1 1311.8 L1766.1 1311.4 L1769.1 1310.9 L1772.1 1310.4 L1775.1 1309.9 L1778.1 1309.4 L1781.2 1308.9 L1784.2 1308.5 L1787.2 1308.2 L1790.2 1307.8 L1793.2 1307.5 L1796.2 1307.1 L1799.2 1306.8 L1802.2 1306.5 L1805.2 1306.1 L1808.2 1305.8 L1811.2 1305.4 L1814.2 1305.1 L1817.2 1304.7 L1820.2 1304.4 L1823.2 1304 L1826.2 1303.7 L1829.2 1303.4 L1832.2 1303.1 L1835.2 1302.8 L1838.2 1302.6 L1841.2 1302.3 L1844.2 1302 L1847.2 1301.7 L1850.2 1301.5 L1853.2 1301.2 L1856.2 1300.9 L1859.2 1300.6 L1862.2 1300.3 L1865.2 1300.1 L1868.2 1299.8 L1871.2 1299.6 L1874.2 1299.4 L1877.2 1299.2 L1880.2 1298.9 L1883.2 1298.7 L1886.2 1298.5 L1889.2 1298.3 L1892.2 1298.1 L1895.2 1297.8 L1898.2 1297.6 L1901.2 1297.4 L1904.2 1297.2 L1907.2 1297 L1910.2 1296.7 L1913.2 1296.5 L1916.2 1296.3 L1919.2 1296.1 L1922.2 1295.9 L1925.2 1295.6 L1928.2 1295.4 L1931.2 1295.2 L1934.2 1295 L1937.2 1294.8 L1940.2 1294.5 L1943.2 1294.3 L1946.2 1294.1 L1949.2 1293.9 L1952.2 1293.7 L1955.2 1293.5 L1958.2 1293.4 L1961.2 1293.3 L1964.2 1293.1 L1967.2 1293 L1970.2 1292.8 L1973.2 1292.7 L1976.2 1292.6 L1979.2 1292.4 L1982.2 1292.3 L1985.2 1292.1 L1988.2 1292 L1991.2 1291.9 L1994.2 1291.7 L1997.2 1291.6 L2000.2 1291.4 L2003.2 1291.3 L2006.2 1291.2 L2009.2 1291 L2012.2 1290.9 L2015.2 1290.7 L2018.2 1290.6 L2021.2 1290.5 L2024.2 1290.3 L2027.2 1290.2 L2030.2 1290 L2033.2 1289.9 L2036.2 1289.8 L2039.2 1289.7 L2042.2 1289.6 L2045.2 1289.6 L2048.2 1289.5 L2051.2 1289.4 L2054.2 1289.4 L2057.2 1289.3 L2060.2 1289.3 L2063.2 1289.2 L2066.2 1289.2 L2069.2 1289.1 L2072.2 1289.1 L2075.2 1289 L2078.2 1288.9 L2081.2 1288.9 L2084.2 1288.8 L2087.2 1288.8 L2090.2 1288.7 L2093.2 1288.7 L2096.2 1288.6 L2099.2 1288.6 L2102.2 1288.5 L2102.2 1299.4 L2099.2 1299.4 L2096.2 1299.4 L2093.2 1299.4 L2090.2 1299.4 L2087.2 1299.5 L2084.2 1299.5 L2081.2 1299.5 L2078.2 1299.5 L2075.2 1299.5 L2072.2 1299.5 L2069.2 1299.5 L2066.2 1299.5 L2063.2 1299.5 L2060.2 1299.6 L2057.2 1299.6 L2054.2 1299.6 L2051.2 1299.6 L2048.2 1299.6 L2045.2 1299.6 L2042.2 1299.6 L2039.2 1299.6 L2036.2 1299.7 L2033.2 1299.8 L2030.2 1299.9 L2027.2 1300 L2024.2 1300.1 L2021.2 1300.1 L2018.2 1300.2 L2015.2 1300.3 L2012.2 1300.4 L2009.2 1300.5 L2006.2 1300.6 L2003.2 1300.7 L2000.2 1300.8 L1997.2 1300.9 L1994.2 1301 L1991.2 1301.1 L1988.2 1301.2 L1985.2 1301.3 L1982.2 1301.4 L1979.2 1301.5 L1976.2 1301.6 L1973.2 1301.7 L1970.2 1301.8 L1967.2 1301.9 L1964.2 1302 L1961.2 1302.1 L1958.2 1302.1 L1955.2 1302.2 L1952.2 1302.3 L1949.2 1302.5 L1946.2 1302.7 L1943.2 1302.9 L1940.2 1303 L1937.2 1303.2 L1934.2 1303.4 L1931.2 1303.6 L1928.2 1303.7 L1925.2 1303.9 L1922.2 1304.1 L1919.2 1304.3 L1916.2 1304.4 L1913.2 1304.6 L1910.2 1304.8 L1907.2 1305 L1904.2 1305.1 L1901.2 1305.3 L1898.2 1305.5 L1895.2 1305.7 L1892.2 1305.8 L1889.2 1306 L1886.2 1306.2 L1883.2 1306.4 L1880.2 1306.5 L1877.2 1306.7 L1874.2 1306.9 L1871.2 1307.1 L1868.2 1307.2 L1865.2 1307.4 L1862.2 1307.7 L1859.2 1307.9 L1856.2 1308.1 L1853.2 1308.4 L1850.2 1308.6 L1847.2 1308.8 L1844.2 1309.1 L1841.2 1309.3 L1838.2 1309.5 L1835.2 1309.8 L1832.2 1310 L1829.2 1310.2 L1826.2 1310.5 L1823.2 1310.8 L1820.2 1311.1 L1817.2 1311.4 L1814.2 1311.7 L1811.2 1312 L1808.2 1312.3 L1805.2 1312.6 L1802.2 1312.9 L1799.2 1313.2 L1796.2 1313.5 L1793.2 1313.8 L1790.2 1314.1 L1787.2 1314.4 L1784.2 1314.7 L1781.2 1315.1 L1778.1 1315.5 L1775.1 1315.8 L1772.1 1316.2 L1769.1 1316.6 L1766.1 1317 L1763.1 1317.3 L1760.1 1317.7 L1757.1 1318.1 L1754.1 1318.5 L1751.1 1318.9 L1748.1 1319.2 L1745.1 1319.6 L1742.1 1320.1 L1739.1 1320.6 L1736.1 1321.1 L1733.1 1321.6 L1730.1 1322.1 L1727.1 1322.6 L1724.1 1323.1 L1721.1 1323.6 L1718.1 1324.1 L1715.1 1324.6 L1712.1 1325.1 L1709.1 1325.5 L1706.1 1326.2 L1703.1 1327 L1700.1 1327.7 L1697.1 1328.4 L1694.1 1329.1 L1691.1 1329.9 L1688.1 1330.6 L1685.1 1331.3 L1682.1 1332.1 L1679.1 1332.8 L1676.1 1333.8 L1673.1 1334.9 L1670.1 1335.6 L1667.1 1335.5 L1664.1 1335.2 L1661.1 1335.2 L1658.1 1335.1 L1655.1 1335.1 L1652.1 1335.1 L1649.1 1335.1 L1646.1 1335.1 L1643.1 1335.1 L1640.1 1335.1 L1637.1 1335.1 L1634.1 1335.1 L1631.1 1335 L1628.1 1335 L1625.1 1335 L1622.1 1335 L1619.1 1335 L1616.1 1335 L1613.1 1334.9 L1610.1 1334.9 L1607.1 1334.9 L1604.1 1334.8 L1601.1 1334.8 L1598.1 1334.8 L1595.1 1334.8 L1592.1 1334.7 L1589.1 1334.7 L1586.1 1334.7 L1583.1 1334.6 L1580.1 1334.6 L1577.1 1334.6 L1574.1 1334.5 L1571.1 1334.5 L1568.1 1334.5 L1565.1 1334.5 L1562.1 1334.4 L1559.1 1334.4 L1556.1 1334.3 L1553.1 1334.3 L1550.1 1334.2 L1547.1 1334.2 L1544.1 1334.1 L1541.1 1334.1 L1538.1 1334 L1535.1 1334 L1532.1 1333.9 L1529.1 1333.9 L1526.1 1333.8 L1523.1 1333.8 L1520.1 1333.8 L1517.1 1333.7 L1514.1 1333.7 L1511.1 1333.6 L1508.1 1333.6 L1505.1 1333.5 L1502.1 1333.5 L1499.1 1333.4 L1496.1 1333.4 L1493.1 1333.3 L1490.1 1333.3 L1487.1 1333.2 L1484.1 1333.2 L1481.1 1333.1 L1478.1 1333 L1475.1 1333 L1472.1 1332.9 L1469.1 1332.8 L1466.1 1332.7 L1463.1 1332.6 L1460.1 1332.5 L1457.1 1332.4 L1454.1 1332.3 L1451.1 1332.2 L1448.1 1332.1 L1445.1 1332.1 L1442.1 1332 L1439.1 1331.9 L1436.1 1331.8 L1433.1 1331.7 L1430.1 1331.6 L1427.1 1331.5 L1424.1 1331.4 L1421.1 1331.3 L1418.1 1331.2 L1415.1 1331.2 L1412.1 1331.1 L1409.1 1331 L1406.1 1330.9 L1403.1 1330.8 L1400.1 1330.7 L1397.1 1330.6 L1394.1 1330.4 L1391.1 1330.3 L1388.1 1330.2 L1385.1 1330 L1382.1 1329.9 L1379.1 1329.8 L1376.1 1329.7 L1373.1 1329.5 L1370.1 1329.4 L1367.1 1329.3 L1364.1 1329.1 L1361.1 1329 L1358.1 1328.9 L1355.1 1328.7 L1352.1 1328.6 L1349.1 1328.5 L1346.1 1328.3 L1343.1 1328.2 L1340.1 1328.1 L1337.1 1327.9 L1334.1 1327.8 L1331.1 1327.7 L1328.1 1327.6 L1325.1 1327.4 L1322.1 1327.3 L1319.1 1327.1 L1316.1 1326.9 L1313.1 1326.8 L1310.1 1326.6 L1307.1 1326.4 L1304.1 1326.2 L1301.1 1326 L1298.1 1325.8 L1295.1 1325.6 L1292.1 1325.4 L1289.1 1325.2 L1286.1 1325 L1283.1 1324.8 L1280.1 1324.6 L1277.1 1324.5 L1274.1 1324.3 L1271.1 1324.1 L1268.1 1323.9 L1265.1 1323.7 L1262.1 1323.5 L1259.1 1323.3 L1256.1 1323.1 L1253.1 1322.9 L1250.1 1322.7 L1247.1 1322.5 L1244.1 1322.3 L1241.1 1322.1 L1238.1 1321.8 L1235.1 1321.6 L1232.1 1321.3 L1229.1 1321.1 L1226.1 1320.9 L1223.1 1320.6 L1220.1 1320.4 L1217.1 1320.1 L1214.1 1319.9 L1211.1 1319.6 L1208.1 1319.4 L1205.1 1319.1 L1202.1 1318.9 L1199.1 1318.7 L1196.1 1318.4 L1193.1 1318.2 L1190.1 1317.9 L1187.1 1317.7 L1184.1 1317.4 L1181.1 1317.2 L1178.1 1316.9 L1175.1 1316.6 L1172.1 1316.3 L1169.1 1316 L1166.1 1315.7 L1163.1 1315.3 L1160.1 1315 L1157.1 1314.7 L1154.1 1314.4 L1151.1 1314.1 L1148.1 1313.8 L1145.1 1313.5 L1142.1 1313.2 L1139.1 1312.9 L1136.1 1312.6 L1133 1312.2 L1130 1311.9 L1127 1311.6 L1124 1311.3 L1121 1311 L1118 1310.7 L1115 1310.3 L1112 1309.9 L1109 1309.5 L1106 1309.2 L1103 1308.8 L1100 1308.4 L1097 1308.1 L1094 1307.7 L1091 1307.3 L1088 1307 L1085 1306.6 L1082 1306.2 L1079 1305.8 L1076 1305.5 L1073 1305.1 L1070 1304.7 L1067 1304.4 L1064 1304 L1061 1303.6 L1058 1303.2 L1055 1302.8 L1052 1302.3 L1049 1301.9 L1046 1301.5 L1043 1301 L1040 1300.6 L1037 1300.2 L1034 1299.7 L1031 1299.3 L1028 1298.9 L1025 1298.4 L1022 1298 L1019 1297.6 L1016 1297.1 L1013 1296.7 L1010 1296.3 L1007 1295.8 L1004 1295.4 L1001 1294.9 L998 1294.5 L995 1294 L992 1293.4 L989 1292.9 L986 1292.4 L983 1291.9 L980 1291.4 L977 1290.9 L974 1290.4 L971 1289.9 L968 1289.4 L965 1288.9 L962 1288.3 L959 1287.8 L956 1287.3 L953 1286.8 L950 1286.3 L947 1285.7 L944 1285.1 L941 1284.6 L938 1284 L935 1283.4 L932 1282.8 L929 1282.2 L926 1281.6 L923 1281.1 L920 1280.5 L917 1279.9 L914 1279.3 L911 1278.7 L908 1278.2 L905 1277.6 L902 1277 L899 1276.4 L896 1275.7 L893 1275 L890 1274.2 L887 1273.5 L884 1272.8 L881 1272.1 L878 1271.4 L875 1270.7 L872 1270 L869 1269.3 L866 1268.6 L863 1267.9 L860 1267.2 L857 1266.5 L854 1265.7 L851 1265 L848 1264.2 L845 1263.4 L842 1262.6 L839 1261.8 L836 1260.9 L833 1260.1 L830 1259.3 L827 1258.4 L824 1257.6 L821 1256.8 L818 1255.9 L815 1255.1 L812 1254.3Z" fill="#000"/>
<path d="M812 1514.7 L815 1513.9 L818 1513.1 L821 1512.2 L824 1511.4 L827 1510.6 L830 1509.7 L833 1508.9 L836 1508.1 L839 1507.2 L842 1506.4 L845 1505.6 L848 1504.8 L851 1504 L854 1503.3 L857 1502.5 L860 1501.8 L863 1501.1 L866 1500.4 L869 1499.7 L872 1499 L875 1498.3 L878 1497.6 L881 1496.9 L884 1496.2 L887 1495.5 L890 1494.8 L893 1494 L896 1493.3 L899 1492.6 L902 1492 L905 1491.4 L908 1490.8 L911 1490.3 L914 1489.7 L917 1489.1 L920 1488.5 L923 1487.9 L926 1487.4 L929 1486.8 L932 1486.2 L935 1485.6 L938 1485 L941 1484.4 L944 1483.9 L947 1483.3 L950 1482.7 L953 1482.2 L956 1481.7 L959 1481.2 L962 1480.7 L965 1480.1 L968 1479.6 L971 1479.1 L974 1478.6 L977 1478.1 L980 1477.6 L983 1477.1 L986 1476.6 L989 1476.1 L992 1475.6 L995 1475 L998 1474.5 L1001 1474.1 L1004 1473.6 L1007 1473.2 L1010 1472.7 L1013 1472.3 L1016 1471.9 L1019 1471.4 L1022 1471 L1025 1470.6 L1028 1470.1 L1031 1469.7 L1034 1469.3 L1037 1468.8 L1040 1468.4 L1043 1468 L1046 1467.5 L1049 1467.1 L1052 1466.7 L1055 1466.2 L1058 1465.8 L1061 1465.4 L1064 1465 L1067 1464.6 L1070 1464.3 L1073 1463.9 L1076 1463.5 L1079 1463.2 L1082 1462.8 L1085 1462.4 L1088 1462 L1091 1461.7 L1094 1461.3 L1097 1460.9 L1100 1460.6 L1103 1460.2 L1106 1459.8 L1109 1459.5 L1112 1459.1 L1115 1458.7 L1118 1458.3 L1121 1458 L1124 1457.7 L1127 1457.4 L1130 1457.1 L1133 1456.8 L1136.1 1456.4 L1139.1 1456.1 L1142.1 1455.8 L1145.1 1455.5 L1148.1 1455.2 L1151.1 1454.9 L1154.1 1454.6 L1157.1 1454.3 L1160.1 1454 L1163.1 1453.7 L1166.1 1453.3 L1169.1 1453 L1172.1 1452.7 L1175.1 1452.4 L1178.1 1452.1 L1181.1 1451.8 L1184.1 1451.6 L1187.1 1451.3 L1190.1 1451.1 L1193.1 1450.8 L1196.1 1450.6 L1199.1 1450.3 L1202.1 1450.1 L1205.1 1449.9 L1208.1 1449.6 L1211.1 1449.4 L1214.1 1449.1 L1217.1 1448.9 L1220.1 1448.6 L1223.1 1448.4 L1226.1 1448.1 L1229.1 1447.9 L1232.1 1447.7 L1235.1 1447.4 L1238.1 1447.2 L1241.1 1446.9 L1244.1 1446.7 L1247.1 1446.5 L1250.1 1446.3 L1253.1 1446.1 L1256.1 1445.9 L1259.1 1445.7 L1262.1 1445.5 L1265.1 1445.3 L1268.1 1445.1 L1271.1 1444.9 L1274.1 1444.7 L1277.1 1444.5 L1280.1 1444.4 L1283.1 1444.2 L1286.1 1444 L1289.1 1443.8 L1292.1 1443.6 L1295.1 1443.4 L1298.1 1443.2 L1301.1 1443 L1304.1 1442.8 L1307.1 1442.6 L1310.1 1442.4 L1313.1 1442.2 L1316.1 1442.1 L1319.1 1441.9 L1322.1 1441.7 L1325.1 1441.6 L1328.1 1441.4 L1331.1 1441.3 L1334.1 1441.2 L1337.1 1441.1 L1340.1 1440.9 L1343.1 1440.8 L1346.1 1440.7 L1349.1 1440.5 L1352.1 1440.4 L1355.1 1440.3 L1358.1 1440.1 L1361.1 1440 L1364.1 1439.9 L1367.1 1439.7 L1370.1 1439.6 L1373.1 1439.5 L1376.1 1439.3 L1379.1 1439.2 L1382.1 1439.1 L1385.1 1439 L1388.1 1438.8 L1391.1 1438.7 L1394.1 1438.6 L1397.1 1438.4 L1400.1 1438.3 L1403.1 1438.2 L1406.1 1438.1 L1409.1 1438 L1412.1 1437.9 L1415.1 1437.8 L1418.1 1437.8 L1421.1 1437.7 L1424.1 1437.6 L1427.1 1437.5 L1430.1 1437.4 L1433.1 1437.3 L1436.1 1437.2 L1439.1 1437.1 L1442.1 1437 L1445.1 1436.9 L1448.1 1436.9 L1451.1 1436.8 L1454.1 1436.7 L1457.1 1436.6 L1460.1 1436.5 L1463.1 1436.4 L1466.1 1436.3 L1469.1 1436.2 L1472.1 1436.1 L1475.1 1436 L1478.1 1436 L1481.1 1435.9 L1484.1 1435.8 L1487.1 1435.8 L1490.1 1435.7 L1493.1 1435.7 L1496.1 1435.6 L1499.1 1435.6 L1502.1 1435.5 L1505.1 1435.5 L1508.1 1435.4 L1511.1 1435.4 L1514.1 1435.3 L1517.1 1435.3 L1520.1 1435.2 L1523.1 1435.2 L1526.1 1435.2 L1529.1 1435.1 L1532.1 1435.1 L1535.1 1435 L1538.1 1435 L1541.1 1434.9 L1544.1 1434.9 L1547.1 1434.8 L1550.1 1434.8 L1553.1 1434.7 L1556.1 1434.7 L1559.1 1434.6 L1562.1 1434.6 L1565.1 1434.5 L1568.1 1434.5 L1571.1 1434.5 L1574.1 1434.5 L1577.1 1434.4 L1580.1 1434.4 L1583.1 1434.4 L1586.1 1434.3 L1589.1 1434.3 L1592.1 1434.3 L1595.1 1434.2 L1598.1 1434.2 L1601.1 1434.2 L1604.1 1434.2 L1607.1 1434.1 L1610.1 1434.1 L1613.1 1434.1 L1616.1 1434 L1619.1 1434 L1622.1 1434 L1625.1 1434 L1628.1 1434 L1631.1 1434 L1634.1 1433.9 L1637.1 1433.9 L1640.1 1433.9 L1643.1 1433.9 L1646.1 1433.9 L1649.1 1433.9 L1652.1 1433.9 L1655.1 1433.9 L1658.1 1433.9 L1661.1 1433.8 L1664.1 1433.8 L1667.1 1433.8 L1670.1 1433.8 L1673.1 1434.7 L1676.1 1435.9 L1679.1 1436.9 L1682.1 1437.8 L1685.1 1438.6 L1688.1 1439.4 L1691.1 1440.3 L1694.1 1441.1 L1697.1 1442 L1700.1 1442.8 L1703.1 1443.6 L1706.1 1444.5 L1709.1 1445.2 L1712.1 1445.8 L1715.1 1446.4 L1718.1 1447 L1721.1 1447.6 L1724.1 1448.2 L1727.1 1448.8 L1730.1 1449.4 L1733.1 1450 L1736.1 1450.6 L1739.1 1451.2 L1742.1 1451.8 L1745.1 1452.4 L1748.1 1452.9 L1751.1 1453.4 L1754.1 1453.9 L1757.1 1454.4 L1760.1 1454.9 L1763.1 1455.4 L1766.1 1455.8 L1769.1 1456.3 L1772.1 1456.8 L1775.1 1457.3 L1778.1 1457.8 L1781.2 1458.3 L1784.2 1458.7 L1787.2 1459 L1790.2 1459.4 L1793.2 1459.7 L1796.2 1460.1 L1799.2 1460.4 L1802.2 1460.7 L1805.2 1461.1 L1808.2 1461.4 L1811.2 1461.8 L1814.2 1462.1 L1817.2 1462.5 L1820.2 1462.8 L1823.2 1463.2 L1826.2 1463.5 L1829.2 1463.8 L1832.2 1464.1 L1835.2 1464.4 L1838.2 1464.6 L1841.2 1464.9 L1844.2 1465.2 L1847.2 1465.5 L1850.2 1465.7 L1853.2 1466 L1856.2 1466.3 L1859.2 1466.6 L1862.2 1466.9 L1865.2 1467.1 L1868.2 1467.4 L1871.2 1467.6 L1874.2 1467.8 L1877.2 1468 L1880.2 1468.3 L1883.2 1468.5 L1886.2 1468.7 L1889.2 1468.9 L1892.2 1469.1 L1895.2 1469.4 L1898.2 1469.6 L1901.2 1469.8 L1904.2 1470 L1907.2 1470.2 L1910.2 1470.5 L1913.2 1470.7 L1916.2 1470.9 L1919.2 1471.1 L1922.2 1471.3 L1925.2 1471.6 L1928.2 1471.8 L1931.2 1472 L1934.2 1472.2 L1937.2 1472.4 L1940.2 1472.7 L1943.2 1472.9 L1946.2 1473.1 L1949.2 1473.3 L1952.2 1473.5 L1955.2 1473.7 L1958.2 1473.8 L1961.2 1473.9 L1964.2 1474.1 L1967.2 1474.2 L1970.2 1474.4 L1973.2 1474.5 L1976.2 1474.6 L1979.2 1474.8 L1982.2 1474.9 L1985.2 1475.1 L1988.2 1475.2 L1991.2 1475.3 L1994.2 1475.5 L1997.2 1475.6 L2000.2 1475.8 L2003.2 1475.9 L2006.2 1476 L2009.2 1476.2 L2012.2 1476.3 L2015.2 1476.5 L2018.2 1476.6 L2021.2 1476.7 L2024.2 1476.9 L2027.2 1477 L2030.2 1477.2 L2033.2 1477.3 L2036.2 1477.4 L2039.2 1477.5 L2042.2 1477.6 L2045.2 1477.6 L2048.2 1477.7 L2051.2 1477.8 L2054.2 1477.8 L2057.2 1477.9 L2060.2 1477.9 L2063.2 1478 L2066.2 1478 L2069.2 1478.1 L2072.2 1478.1 L2075.2 1478.2 L2078.2 1478.3 L2081.2 1478.3 L2084.2 1478.4 L2087.2 1478.4 L2090.2 1478.5 L2093.2 1478.5 L2096.2 1478.6 L2099.2 1478.6 L2102.2 1478.7 L2102.2 1467.8 L2099.2 1467.8 L2096.2 1467.8 L2093.2 1467.8 L2090.2 1467.8 L2087.2 1467.7 L2084.2 1467.7 L2081.2 1467.7 L2078.2 1467.7 L2075.2 1467.7 L2072.2 1467.7 L2069.2 1467.7 L2066.2 1467.7 L2063.2 1467.7 L2060.2 1467.6 L2057.2 1467.6 L2054.2 1467.6 L2051.2 1467.6 L2048.2 1467.6 L2045.2 1467.6 L2042.2 1467.6 L2039.2 1467.6 L2036.2 1467.5 L2033.2 1467.4 L2030.2 1467.3 L2027.2 1467.2 L2024.2 1467.1 L2021.2 1467.1 L2018.2 1467 L2015.2 1466.9 L2012.2 1466.8 L2009.2 1466.7 L2006.2 1466.6 L2003.2 1466.5 L2000.2 1466.4 L1997.2 1466.3 L1994.2 1466.2 L1991.2 1466.1 L1988.2 1466 L1985.2 1465.9 L1982.2 1465.8 L1979.2 1465.7 L1976.2 1465.6 L1973.2 1465.5 L1970.2 1465.4 L1967.2 1465.3 L1964.2 1465.2 L1961.2 1465.1 L1958.2 1465.1 L1955.2 1465 L1952.2 1464.9 L1949.2 1464.7 L1946.2 1464.5 L1943.2 1464.3 L1940.2 1464.2 L1937.2 1464 L1934.2 1463.8 L1931.2 1463.6 L1928.2 1463.5 L1925.2 1463.3 L1922.2 1463.1 L1919.2 1462.9 L1916.2 1462.8 L1913.2 1462.6 L1910.2 1462.4 L1907.2 1462.2 L1904.2 1462.1 L1901.2 1461.9 L1898.2 1461.7 L1895.2 1461.5 L1892.2 1461.4 L1889.2 1461.2 L1886.2 1461 L1883.2 1460.8 L1880.2 1460.7 L1877.2 1460.5 L1874.2 1460.3 L1871.2 1460.1 L1868.2 1460 L1865.2 1459.8 L1862.2 1459.5 L1859.2 1459.3 L1856.2 1459.1 L1853.2 1458.8 L1850.2 1458.6 L1847.2 1458.4 L1844.2 1458.1 L1841.2 1457.9 L1838.2 1457.7 L1835.2 1457.4 L1832.2 1457.2 L1829.2 1457 L1826.2 1456.7 L1823.2 1456.4 L1820.2 1456.1 L1817.2 1455.8 L1814.2 1455.5 L1811.2 1455.2 L1808.2 1454.9 L1805.2 1454.6 L1802.2 1454.3 L1799.2 1454 L1796.2 1453.7 L1793.2 1453.4 L1790.2 1453.1 L1787.2 1452.8 L1784.2 1452.5 L1781.2 1452.1 L1778.1 1451.7 L1775.1 1451.4 L1772.1 1451 L1769.1 1450.6 L1766.1 1450.2 L1763.1 1449.9 L1760.1 1449.5 L1757.1 1449.1 L1754.1 1448.7 L1751.1 1448.3 L1748.1 1448 L1745.1 1447.6 L1742.1 1447.1 L1739.1 1446.6 L1736.1 1446.1 L1733.1 1445.6 L1730.1 1445.1 L1727.1 1444.6 L1724.1 1444.1 L1721.1 1443.6 L1718.1 1443.1 L1715.1 1442.6 L1712.1 1442.1 L1709.1 1441.7 L1706.1 1441 L1703.1 1440.2 L1700.1 1439.5 L1697.1 1438.8 L1694.1 1438.1 L1691.1 1437.3 L1688.1 1436.6 L1685.1 1435.9 L1682.1 1435.1 L1679.1 1434.4 L1676.1 1433.4 L1673.1 1432.3 L1670.1 1431.6 L1667.1 1431.7 L1664.1 1432 L1661.1 1432 L1658.1 1432.1 L1655.1 1432.1 L1652.1 1432.1 L1649.1 1432.1 L1646.1 1432.1 L1643.1 1432.1 L1640.1 1432.1 L1637.1 1432.1 L1634.1 1432.1 L1631.1 1432.2 L1628.1 1432.2 L1625.1 1432.2 L1622.1 1432.2 L1619.1 1432.2 L1616.1 1432.2 L1613.1 1432.3 L1610.1 1432.3 L1607.1 1432.3 L1604.1 1432.4 L1601.1 1432.4 L1598.1 1432.4 L1595.1 1432.4 L1592.1 1432.5 L1589.1 1432.5 L1586.1 1432.5 L1583.1 1432.6 L1580.1 1432.6 L1577.1 1432.6 L1574.1 1432.7 L1571.1 1432.7 L1568.1 1432.7 L1565.1 1432.7 L1562.1 1432.8 L1559.1 1432.8 L1556.1 1432.9 L1553.1 1432.9 L1550.1 1433 L1547.1 1433 L1544.1 1433.1 L1541.1 1433.1 L1538.1 1433.2 L1535.1 1433.2 L1532.1 1433.3 L1529.1 1433.3 L1526.1 1433.4 L1523.1 1433.4 L1520.1 1433.4 L1517.1 1433.5 L1514.1 1433.5 L1511.1 1433.6 L1508.1 1433.6 L1505.1 1433.7 L1502.1 1433.7 L1499.1 1433.8 L1496.1 1433.8 L1493.1 1433.9 L1490.1 1433.9 L1487.1 1434 L1484.1 1434 L1481.1 1434.1 L1478.1 1434.2 L1475.1 1434.2 L1472.1 1434.3 L1469.1 1434.4 L1466.1 1434.5 L1463.1 1434.6 L1460.1 1434.7 L1457.1 1434.8 L1454.1 1434.9 L1451.1 1435 L1448.1 1435.1 L1445.1 1435.1 L1442.1 1435.2 L1439.1 1435.3 L1436.1 1435.4 L1433.1 1435.5 L1430.1 1435.6 L1427.1 1435.7 L1424.1 1435.8 L1421.1 1435.9 L1418.1 1436 L1415.1 1436 L1412.1 1436.1 L1409.1 1436.2 L1406.1 1436.3 L1403.1 1436.4 L1400.1 1436.5 L1397.1 1436.6 L1394.1 1436.8 L1391.1 1436.9 L1388.1 1437 L1385.1 1437.2 L1382.1 1437.3 L1379.1 1437.4 L1376.1 1437.5 L1373.1 1437.7 L1370.1 1437.8 L1367.1 1437.9 L1364.1 1438.1 L1361.1 1438.2 L1358.1 1438.3 L1355.1 1438.5 L1352.1 1438.6 L1349.1 1438.7 L1346.1 1438.9 L1343.1 1439 L1340.1 1439.1 L1337.1 1439.3 L1334.1 1439.4 L1331.1 1439.5 L1328.1 1439.6 L1325.1 1439.8 L1322.1 1439.9 L1319.1 1440.1 L1316.1 1440.3 L1313.1 1440.4 L1310.1 1440.6 L1307.1 1440.8 L1304.1 1441 L1301.1 1441.2 L1298.1 1441.4 L1295.1 1441.6 L1292.1 1441.8 L1289.1 1442 L1286.1 1442.2 L1283.1 1442.4 L1280.1 1442.6 L1277.1 1442.7 L1274.1 1442.9 L1271.1 1443.1 L1268.1 1443.3 L1265.1 1443.5 L1262.1 1443.7 L1259.1 1443.9 L1256.1 1444.1 L1253.1 1444.3 L1250.1 1444.5 L1247.1 1444.7 L1244.1 1444.9 L1241.1 1445.1 L1238.1 1445.4 L1235.1 1445.6 L1232.1 1445.9 L1229.1 1446.1 L1226.1 1446.3 L1223.1 1446.6 L1220.1 1446.8 L1217.1 1447.1 L1214.1 1447.3 L1211.1 1447.6 L1208.1 1447.8 L1205.1 1448.1 L1202.1 1448.3 L1199.1 1448.5 L1196.1 1448.8 L1193.1 1449 L1190.1 1449.3 L1187.1 1449.5 L1184.1 1449.8 L1181.1 1450 L1178.1 1450.3 L1175.1 1450.6 L1172.1 1450.9 L1169.1 1451.2 L1166.1 1451.5 L1163.1 1451.9 L1160.1 1452.2 L1157.1 1452.5 L1154.1 1452.8 L1151.1 1453.1 L1148.1 1453.4 L1145.1 1453.7 L1142.1 1454 L1139.1 1454.3 L1136.1 1454.6 L1133 1455 L1130 1455.3 L1127 1455.6 L1124 1455.9 L1121 1456.2 L1118 1456.5 L1115 1456.9 L1112 1457.3 L1109 1457.7 L1106 1458 L1103 1458.4 L1100 1458.8 L1097 1459.1 L1094 1459.5 L1091 1459.9 L1088 1460.2 L1085 1460.6 L1082 1461 L1079 1461.4 L1076 1461.7 L1073 1462.1 L1070 1462.5 L1067 1462.8 L1064 1463.2 L1061 1463.6 L1058 1464 L1055 1464.4 L1052 1464.9 L1049 1465.3 L1046 1465.7 L1043 1466.2 L1040 1466.6 L1037 1467 L1034 1467.5 L1031 1467.9 L1028 1468.3 L1025 1468.8 L1022 1469.2 L1019 1469.6 L1016 1470.1 L1013 1470.5 L1010 1470.9 L1007 1471.4 L1004 1471.8 L1001 1472.3 L998 1472.7 L995 1473.2 L992 1473.8 L989 1474.3 L986 1474.8 L983 1475.3 L980 1475.8 L977 1476.3 L974 1476.8 L971 1477.3 L968 1477.8 L965 1478.3 L962 1478.9 L959 1479.4 L956 1479.9 L953 1480.4 L950 1480.9 L947 1481.5 L944 1482.1 L941 1482.6 L938 1483.2 L935 1483.8 L932 1484.4 L929 1485 L926 1485.6 L923 1486.1 L920 1486.7 L917 1487.3 L914 1487.9 L911 1488.5 L908 1489 L905 1489.6 L902 1490.2 L899 1490.8 L896 1491.5 L893 1492.2 L890 1493 L887 1493.7 L884 1494.4 L881 1495.1 L878 1495.8 L875 1496.5 L872 1497.2 L869 1497.9 L866 1498.6 L863 1499.3 L860 1500 L857 1500.7 L854 1501.5 L851 1502.2 L848 1503 L845 1503.8 L842 1504.6 L839 1505.4 L836 1506.3 L833 1507.1 L830 1507.9 L827 1508.8 L824 1509.6 L821 1510.4 L818 1511.3 L815 1512.1 L812 1512.9Z" fill="#000"/>
<rect x="671.2" y="186.0" width="430.0" height="924.2" fill="none" stroke="#3c3c3c" stroke-width="2.4"/>
<rect x="708.0" y="260.4" width="90.6" height="15.3" fill="#fe0000"/>
<rect x="708.0" y="275.1" width="90.6" height="36.4" fill="#ff2a00"/>
<rect x="708.0" y="310.9" width="90.6" height="36.4" fill="#ff5f00"/>
<rect x="708.0" y="346.8" width="90.6" height="36.4" fill="#ff8c00"/>
<rect x="708.0" y="382.6" width="90.6" height="36.4" fill="#ffb800"/>
<rect x="708.0" y="418.4" width="90.6" height="36.4" fill="#ffe800"/>
<rect x="708.0" y="454.2" width="90.6" height="36.4" fill="#e0ff00"/>
<rect x="708.0" y="490.1" width="90.6" height="36.4" fill="#98ff00"/>
<rect x="708.0" y="525.9" width="90.6" height="36.4" fill="#00ff00"/>
<rect x="708.0" y="561.7" width="90.6" height="36.4" fill="#00ff00"/>
<rect x="708.0" y="597.6" width="90.6" height="36.4" fill="#00ff00"/>
<rect x="708.0" y="633.4" width="90.6" height="36.4" fill="#00ff00"/>
<rect x="708.0" y="669.2" width="90.6" height="36.4" fill="#00ff08"/>
<rect x="708.0" y="705.1" width="90.6" height="36.4" fill="#00ff40"/>
<rect x="708.0" y="740.9" width="90.6" height="36.4" fill="#00ff78"/>
<rect x="708.0" y="776.7" width="90.6" height="36.4" fill="#00ffa8"/>
<rect x="708.0" y="812.5" width="90.6" height="36.4" fill="#00ffe0"/>
<rect x="708.0" y="848.4" width="90.6" height="36.4" fill="#00e8ff"/>
<rect x="708.0" y="884.2" width="90.6" height="36.4" fill="#00b4ff"/>
<rect x="708.0" y="920" width="90.6" height="36.4" fill="#008cff"/>
<rect x="708.0" y="955.9" width="90.6" height="36.4" fill="#0055ff"/>
<rect x="708.0" y="991.7" width="90.6" height="36.4" fill="#0022ff"/>
<rect x="708.0" y="1027.5" width="90.6" height="17.9" fill="#0000ff"/>
<rect x="708.0" y="310.8" width="90.6" height="2.4" fill="#000" fill-opacity=".85"/>
<rect x="708.0" y="382.5" width="90.6" height="2.4" fill="#000" fill-opacity=".85"/>
<rect x="708.0" y="454.1" width="90.6" height="2.4" fill="#000" fill-opacity=".85"/>
<rect x="708.0" y="525.8" width="90.6" height="2.4" fill="#000" fill-opacity=".85"/>
<rect x="708.0" y="597.4" width="90.6" height="2.4" fill="#000" fill-opacity=".85"/>
<rect x="708.0" y="669.1" width="90.6" height="2.4" fill="#000" fill-opacity=".85"/>
<rect x="708.0" y="740.8" width="90.6" height="2.4" fill="#000" fill-opacity=".85"/>
<rect x="708.0" y="812.4" width="90.6" height="2.4" fill="#000" fill-opacity=".85"/>
<rect x="708.0" y="884.1" width="90.6" height="2.4" fill="#000" fill-opacity=".85"/>
<rect x="708.0" y="955.7" width="90.6" height="2.4" fill="#000" fill-opacity=".85"/>
<rect x="708.0" y="1027.4" width="90.6" height="2.4" fill="#000" fill-opacity=".85"/>
<rect x="708.0" y="260.4" width="90.6" height="784.4" fill="none" stroke="#151515" stroke-width="1.9"/>
<text x="843" y="343" font-size="59.6" textLength="221" lengthAdjust="spacingAndGlyphs">298.478</text>
<text x="843" y="414.4" font-size="59.6" textLength="101" lengthAdjust="spacingAndGlyphs">290</text>
<text x="843" y="485.8" font-size="59.6" textLength="101" lengthAdjust="spacingAndGlyphs">270</text>
<text x="843" y="557.2" font-size="59.6" textLength="101" lengthAdjust="spacingAndGlyphs">250</text>
<text x="843" y="628.6" font-size="59.6" textLength="101" lengthAdjust="spacingAndGlyphs">230</text>
<text x="843" y="700" font-size="59.6" textLength="101" lengthAdjust="spacingAndGlyphs">210</text>
<text x="843" y="771.4" font-size="59.6" textLength="101" lengthAdjust="spacingAndGlyphs">190</text>
<text x="843" y="842.8" font-size="59.6" textLength="101" lengthAdjust="spacingAndGlyphs">170</text>
<text x="843" y="914.2" font-size="59.6" textLength="101" lengthAdjust="spacingAndGlyphs">150</text>
<text x="843" y="985.6" font-size="59.6" textLength="101" lengthAdjust="spacingAndGlyphs">130</text>
<text x="843" y="1057" font-size="59.6" textLength="221" lengthAdjust="spacingAndGlyphs">125.608</text>
<text class="b" font-size="52.5" transform="translate(995 265.4) scale(1.04 1)">[K]</text>
<rect x="1156.4" y="190.2" width="1035.2" height="912.8" fill="none" stroke="#2a2a2a" stroke-width="2.2"/>
<clipPath id="ins"><rect x="1290" y="380" width="775.6" height="540"/></clipPath>
<clipPath id="insw"><path d="M1290.2 453.3 L1388.7 444.7 L1477.7 436 L1566.7 428.8 L1700 421.3 L1768.7 418.2 L1824 417.1 L1906.5 416.8 L1947.7 414.5 L1988.8 412.9 L2065.5 409.3 L2065.5 889.7 L1988.8 886.1 L1947.7 884.5 L1906.5 882.2 L1824 881.9 L1768.7 880.8 L1700 877.7 L1566.7 870.2 L1477.7 863 L1388.7 854.3 L1290.2 845.7Z"/></clipPath>
<g clip-path="url(#ins)">
<g fill="none" stroke="#000" stroke-width="1.8" stroke-linejoin="round" stroke-linecap="butt" clip-path="url(#insw)">
<path d="M1290.2 458.8 C1308.5 456.8 1365 450.6 1400 447 C1435 443.4 1466.7 440.3 1500 437.5 C1533.3 434.7 1566.7 431.1 1600 430 C1633.3 428.9 1666.7 431 1700 431 C1733.3 431 1766.7 430.6 1800 430 C1833.3 429.4 1855.8 428.3 1900 427.5 C1944.2 426.7 2037.9 425.4 2065.5 425"/>
<path d="M1290.2 840.2 C1308.5 842.2 1365 848.5 1400 852 C1435 855.5 1466.7 858.7 1500 861.5 C1533.3 864.3 1566.7 867.9 1600 869 C1633.3 870.1 1666.7 868 1700 868 C1733.3 868 1766.7 868.4 1800 869 C1833.3 869.6 1855.8 870.7 1900 871.5 C1944.2 872.3 2037.9 873.6 2065.5 874"/>
<path d="M1353.1 479.4 C1359 476 1376.8 464.1 1388.7 458.6 C1400.6 453.2 1409.5 450.1 1424.3 446.8 C1439.1 443.4 1458.9 440.8 1477.7 438.5 C1496.5 436.1 1517.3 434.7 1537.1 432.8 C1556.9 431 1586.5 428.4 1596.4 427.5"/>
<path d="M1289.7 487.4 C1292.6 485.3 1301.4 478.5 1307 475 C1312.6 471.5 1316.8 469.3 1323.1 466.4 C1329.4 463.5 1337.5 460 1344.7 457.7 C1351.9 455.4 1359.1 453.8 1366.3 452.4 C1373.5 451 1380.6 450.2 1387.8 449.1 C1395 448 1400.7 447.1 1409.4 446 C1418.1 444.9 1434.9 443.1 1440 442.5"/>
<path d="M1290.3 775.7 C1294.7 779.5 1308.7 792.7 1316.8 798.5 C1324.9 804.3 1332.7 807.1 1338.8 810.3 C1344.9 813.5 1347.4 813.7 1353.5 817.6 C1359.6 821.5 1368.2 829.5 1375.6 833.8 C1382.9 838.1 1389 840.7 1397.6 843.4 C1406.2 846.1 1417.3 848.2 1427.1 850 C1436.9 851.8 1444.3 852.8 1456.5 854.4 C1468.7 856 1492.8 858.6 1500 859.5"/>
<path d="M1290.3 812.5 C1292.2 814 1296.4 817.8 1302 821.3 C1307.6 824.8 1315.5 830.4 1324.1 833.8 C1332.7 837.2 1343.7 839.7 1353.5 841.9 C1363.3 844.1 1373.1 845.8 1382.9 847.1 C1392.7 848.4 1401.2 848.7 1412.4 849.8 C1423.6 850.9 1443.7 852.9 1450 853.5"/>
<path d="M1290.2 620.4 C1291.3 615.9 1294.1 602.1 1296.7 593.7 C1299.3 585.3 1301.7 577.1 1305.6 569.9 C1309.6 562.8 1314 557.1 1320.4 550.6 C1326.9 544.2 1335.3 538 1344.2 531.3 C1353.1 524.7 1364 517.5 1373.9 510.6 C1383.8 503.6 1394.1 496.2 1403.5 489.8 C1412.9 483.4 1421.8 477.3 1430.2 472 C1438.7 466.7 1445.1 461.9 1454 457.7 C1462.9 453.6 1472.3 450.3 1483.7 447.4 C1495 444.4 1508.4 442.2 1522.2 440.2 C1536.1 438.3 1549.4 437.5 1566.8 435.8 C1584.1 434.1 1616.2 430.8 1626.1 429.9"/>
<path d="M1290.2 679.7 C1291.3 683.7 1294.1 695.5 1296.7 703.5 C1299.3 711.4 1301.7 719.8 1305.6 727.2 C1309.6 734.6 1314 741.1 1320.4 748 C1326.9 754.9 1332.8 760.8 1344.2 768.7 C1355.6 776.7 1373.9 787 1388.7 795.5 C1403.5 803.9 1418.4 811.3 1433.2 819.2 C1448.1 827.1 1462.9 836 1477.7 842.9 C1492.6 849.9 1507.4 856 1522.2 860.7 C1537.1 865.4 1549.4 868.2 1566.8 871.1 C1584.1 874.1 1616.2 877.3 1626.1 878.5"/>
<path d="M1382.8 553.6 C1381.3 554.6 1378.3 555.8 1373.9 559.5 C1369.4 563.2 1361.5 570.2 1356.1 575.9 C1350.6 581.5 1345.2 587.7 1341.2 593.7 C1337.3 599.6 1335 605 1332.3 611.5 C1329.6 617.9 1326.5 626.3 1324.9 632.2 C1323.3 638.2 1322.8 642.1 1322.8 647.1 C1322.8 652 1323.1 656 1324.9 661.9 C1326.7 667.9 1330.6 675.8 1333.8 682.7 C1337 689.6 1340 696.5 1344.2 703.5 C1348.4 710.4 1352.6 717.3 1359 724.2 C1365.5 731.2 1372.9 738.6 1382.8 745 C1392.7 751.4 1405 755.9 1418.4 762.8 C1431.7 769.7 1448.1 778.1 1462.9 786.6 C1477.7 795 1495 805.3 1507.4 813.3 C1519.8 821.2 1527.2 828.1 1537.1 834 C1547 840 1556.9 844.4 1566.8 848.9 C1576.6 853.3 1584.1 857.3 1596.4 860.7 C1608.8 864.2 1623.7 867.1 1640.9 869.6 C1658.2 872.2 1690.2 875.1 1700 876.2"/>
<path d="M1459.9 512.1 C1465.4 509.1 1482.2 500.4 1492.6 494.3 C1503 488.1 1514.8 480.2 1522.2 475 C1529.7 469.8 1531.6 466.8 1537.1 463.1 C1542.5 459.4 1547.5 455.9 1554.9 452.7 C1562.3 449.5 1569.7 446.5 1581.6 443.8 C1593.5 441.1 1606.4 438.9 1626.1 436.4 C1645.8 433.9 1687.7 430.2 1700 429"/>
<path d="M1507.4 553.6 C1502.5 555.8 1487.6 562.3 1477.7 567 C1467.8 571.7 1457 576.8 1448.1 581.8 C1439.1 586.7 1432.2 590.7 1424.3 596.6 C1416.4 602.6 1407 611.5 1400.6 617.4 C1394.1 623.3 1388.7 627.5 1385.7 632.2 C1382.8 636.9 1382.8 640.6 1382.8 645.6 C1382.8 650.5 1382.3 656.2 1385.7 661.9 C1389.2 667.6 1398.1 673.8 1403.5 679.7 C1409 685.7 1412.4 692.1 1418.4 697.5 C1424.3 703 1429.3 706.9 1439.1 712.4 C1449 717.8 1463.9 724.2 1477.7 730.2 C1491.6 736.1 1507.4 742 1522.2 748 C1537.1 753.9 1554.4 760.3 1566.8 765.8 C1579.1 771.2 1586.5 774.7 1596.4 780.6 C1606.3 786.6 1617.2 794.5 1626.1 801.4 C1635 808.3 1643.4 816 1649.8 822.2 C1656.3 828.3 1659.9 833.8 1664.8 838.5 C1669.8 843.2 1673.7 846.9 1679.7 850.4 C1685.6 853.8 1693 856.8 1700.4 859.3 C1707.9 861.7 1712.8 863.4 1724.2 865.2 C1735.6 867 1761.3 869.4 1768.7 870.2"/>
<path d="M1661.7 461.6 C1664.2 459.5 1671.2 452.2 1676.7 448.8 C1682.2 445.5 1686.6 443.7 1694.5 441.4 C1702.4 439.2 1711.8 437.3 1724.2 435.5 C1736.6 433.7 1761.3 431.3 1768.7 430.4"/>
<path d="M1798.4 430.4 C1793.4 431.2 1777.1 432.9 1768.7 434.9 C1760.3 436.9 1754.4 439.1 1747.9 442.3 C1741.5 445.5 1736.6 449.2 1730.1 454.2 C1723.7 459.1 1716.3 466.1 1709.4 472 C1702.4 477.9 1695.5 483.9 1688.6 489.8 C1681.7 495.7 1674.2 501.8 1667.8 507.6 C1661.4 513.4 1657 519.4 1650 524.8 C1643 530.3 1637.5 534.7 1626.1 540.2 C1614.7 545.8 1596.4 552.6 1581.6 558.1 C1566.8 563.5 1551.9 567.9 1537.1 572.9 C1522.2 577.8 1505.4 582.8 1492.6 587.7 C1479.7 592.7 1469.3 597.6 1459.9 602.6 C1450.5 607.5 1442.4 612.5 1436.2 617.4 C1430 622.3 1425.5 627.5 1422.8 632.2 C1420.1 636.9 1419.9 641.1 1419.9 645.6 C1419.9 650 1419.6 653.8 1422.8 658.9 C1426 664.1 1432.5 671.3 1439.1 676.8 C1445.8 682.2 1451.5 686.2 1462.9 691.6 C1474.3 697 1490.1 703.5 1507.4 709.4 C1524.7 715.3 1549.4 721.3 1566.8 727.2 C1584.1 733.1 1598.9 739.1 1611.3 745 C1623.6 750.9 1634.5 757.9 1640.9 762.8 C1647.4 767.8 1645.5 770.7 1650 774.7 C1654.5 778.6 1661.9 781.6 1667.8 786.6 C1673.7 791.5 1679.7 798.4 1685.6 804.4 C1691.5 810.3 1697 816.2 1703.4 822.2 C1709.8 828.1 1716.8 834.8 1724.2 840 C1731.6 845.2 1739.5 849.6 1747.9 853.3 C1756.3 857 1763.8 859.7 1774.6 862.2 C1785.5 864.8 1806.8 867.7 1813.2 868.8"/>
<path d="M1638 578.8 C1628.6 580.8 1598.4 587.2 1581.6 590.7 C1564.8 594.2 1549.4 596.9 1537.1 599.6 C1524.7 602.3 1516.3 604 1507.4 607 C1498.5 610 1490.3 613.2 1483.7 617.4 C1477 621.6 1470.6 627.5 1467.3 632.2 C1464.1 636.9 1464.4 640.6 1464.4 645.6 C1464.4 650.5 1464.1 656.7 1467.3 661.9 C1470.6 667.1 1477 672.3 1483.7 676.8 C1490.3 681.2 1498.5 684.9 1507.4 688.6 C1516.3 692.3 1525.2 695.9 1537.1 699 C1548.9 702.1 1563.8 704.3 1578.6 707.3 C1593.5 710.4 1614.2 714.6 1626.1 717.4 C1638 720.2 1643 722.6 1650 724.2 C1657 725.9 1661.4 725.2 1667.8 727.2 C1674.2 729.2 1681.7 732.4 1688.6 736.1 C1695.5 739.8 1702.9 744.5 1709.4 749.5 C1715.8 754.4 1722.2 760.1 1727.2 765.8 C1732.1 771.5 1734.6 777.2 1739 783.6 C1743.5 790 1748.9 797.9 1753.9 804.4 C1758.8 810.8 1763.8 816.7 1768.7 822.2 C1773.6 827.6 1777.6 832.1 1783.5 837 C1789.5 841.9 1796.9 847.6 1804.3 851.8 C1811.7 856 1816.7 859.2 1828.1 862.2 C1839.4 865.3 1865.1 868.9 1872.6 870.2"/>
<path d="M1715.3 544.7 C1717.3 542.5 1723.2 536.5 1727.2 531.3 C1731.1 526.2 1734.6 519.5 1739 513.5 C1743.5 507.6 1748.9 501.7 1753.9 495.7 C1758.8 489.8 1763.8 483.9 1768.7 477.9 C1773.6 472 1778.6 465.1 1783.5 460.1 C1788.5 455.2 1791.9 452 1798.4 448.3 C1804.8 444.5 1812.2 440.7 1822.1 437.9 C1832 435 1846.8 432.7 1857.7 431 C1868.6 429.4 1882.5 428.6 1887.4 428.1"/>
<path d="M1669.1 648.6 C1668.9 645.8 1668.9 637.4 1667.6 632.2 C1666.4 627 1663.7 620.5 1661.7 617.4 C1659.7 614.3 1661.7 614.4 1655.8 613.5 C1649.8 612.7 1638.5 611.9 1626.1 612.1 C1613.7 612.2 1594 613.3 1581.6 614.4 C1569.2 615.6 1561.8 616.9 1551.9 618.9 C1542 620.9 1529.7 623.1 1522.2 626.3 C1514.8 629.5 1510.4 634.7 1507.4 638.2 C1504.4 641.6 1504.4 643.6 1504.4 647.1 C1504.4 650.5 1505.4 655.7 1507.4 658.9 C1509.4 662.2 1511.4 663.9 1516.3 666.4 C1521.3 668.8 1531.4 672 1537.1 673.8 C1542.8 675.6 1548.2 676.8 1550.4 677.3"/>
<path d="M2065.5 425.1 C2060.5 425.7 2045.7 427.3 2035.8 429 C2025.9 430.6 2016 431.9 2006.1 434.9 C1996.2 437.9 1984.3 442.3 1976.4 446.8 C1968.5 451.2 1962.8 456.4 1958.6 461.6 C1954.4 466.8 1952.6 473 1951.2 477.9 C1949.8 482.9 1950.5 489.1 1950.3 491.3"/>
<path d="M2011.4 647.1 C2011.5 651 2012.4 662.9 2012 670.8 C2011.6 678.7 2010.6 687.6 2009.1 694.6 C2007.6 701.5 2006.1 705.9 2003.1 712.4 C2000.2 718.8 1995.7 726.2 1991.3 733.1 C1986.8 740.1 1981.4 747 1976.4 753.9 C1971.5 760.8 1965.5 767.8 1961.6 774.7 C1957.6 781.6 1954.4 789.5 1952.7 795.5 C1951 801.4 1950.7 804.9 1951.2 810.3 C1951.7 815.7 1952.9 822.2 1955.7 828.1 C1958.4 834 1961.6 840.5 1967.5 845.9 C1973.5 851.3 1982.4 856.8 1991.3 860.7 C2000.2 864.7 2008.6 867.3 2020.9 869.6 C2033.3 872 2058 874.1 2065.5 875"/>
<path d="M1923 426.9 C1917.1 427.7 1898.3 429.1 1887.4 431.9 C1876.5 434.8 1866.6 439.1 1857.7 443.8 C1848.8 448.5 1840.4 453.9 1834 460.1 C1827.6 466.3 1822.7 473.5 1819.1 480.9 C1815.6 488.3 1813.9 499.1 1812.6 504.6 C1811.4 510.2 1811.9 512.5 1811.7 514.1"/>
<path d="M1868.1 663.4 C1866.4 665.6 1861.4 672.1 1857.7 676.8 C1854 681.5 1849.8 686.2 1845.9 691.6 C1841.9 697 1838.4 703.5 1834 709.4 C1829.5 715.3 1822.9 721.3 1819.1 727.2 C1815.4 733.1 1813.5 739.1 1811.7 745 C1810 750.9 1808.8 755.9 1808.8 762.8 C1808.8 769.7 1809.5 778.6 1811.7 786.6 C1814 794.5 1817.9 802.9 1822.1 810.3 C1826.3 817.7 1831 824.6 1837 831.1 C1842.9 837.5 1850.3 843.9 1857.7 848.9 C1865.1 853.8 1874 857.7 1881.5 860.7 C1888.9 863.8 1894.8 865.5 1902.2 867.3 C1909.7 869 1922 870.5 1926 871.1"/>
<path d="M1911.1 427.5 C1902.8 428.9 1892.2 428.9 1875.5 433.4 C1858.9 437.9 1853.8 439.2 1839.9 446.8 C1826.1 454.4 1824.5 457.4 1816.2 466.1 C1807.9 474.7 1808.8 475.6 1804.3 483.9 C1799.8 492.2 1800.7 492.7 1796.9 501.7 C1793.1 510.7 1791.5 513.4 1788 522.4 C1784.5 531.4 1783.8 530.6 1782.1 540.2 C1780.3 549.9 1779.5 552.9 1780.6 564 C1781.6 575.1 1783.7 577.3 1786.5 587.7 C1789.3 598.1 1789 601.6 1792.4 608.5 C1795.9 615.4 1794.4 613.2 1801.3 617.4 C1808.3 621.6 1815.5 621.5 1822.1 626.3 C1828.7 631.2 1826.4 633 1829.5 638.2 C1832.7 643.4 1835.5 642.3 1835.5 648.6 C1835.5 654.8 1833.3 659 1829.5 664.9 C1825.7 670.8 1827.1 669.3 1819.1 673.8 C1811.2 678.3 1802.3 677.2 1795.4 684.2 C1788.5 691.1 1792.6 694.1 1789.5 703.5 C1786.4 712.8 1784.1 714.5 1782.1 724.2 C1780 733.9 1779.9 733.9 1780.6 745 C1781.3 756.1 1781.6 759.9 1785 771.7 C1788.5 783.5 1790.2 784.4 1795.4 795.5 C1800.6 806.5 1799.7 808.1 1807.3 819.2 C1814.9 830.3 1816.3 833.9 1828.1 842.9 C1839.8 851.9 1843.9 852.1 1857.7 857.8 C1871.6 863.5 1873.6 863.9 1887.4 867.3 C1901.3 870.6 1910.2 870.9 1917.1 872"/>
<path d="M1529.7 647.1 C1530.2 644 1531.4 640 1534.1 637.6 C1536.8 635.2 1540.5 634.2 1546 632.8 C1551.4 631.5 1559.3 630.3 1566.8 629.6 C1574.2 628.9 1584.8 628 1590.5 628.7 C1596.2 629.4 1598.2 630.4 1600.9 633.7 C1603.6 637 1606.5 643.5 1606.8 648.6 C1607.2 653.6 1606.7 660.7 1603 664 C1599.2 667.3 1592.6 668 1584.6 668.4 C1576.5 668.8 1563 667.4 1554.9 666.4 C1546.7 665.4 1539.6 664.2 1535.6 662.5 C1531.6 660.8 1532.1 658.6 1531.1 656 C1530.2 653.4 1529.2 650.1 1529.7 647.1Z"/>
</g>
<path d="M1290.2 450.2 L1388.7 440.2 L1477.7 430.6 L1566.7 423 L1700 414.9 L1768.7 410 L1824 406.8 L1906.5 404.4 L1947.7 402.6 L1988.8 402 L2065.5 399.4 L2065.5 419.2 L1988.8 423.8 L1947.7 426.3 L1906.5 429.1 L1824 427.4 L1768.7 426.5 L1700 427.7 L1566.7 434.5 L1477.7 441.4 L1388.7 449.2 L1290.2 456.5Z" fill="#000"/>
<path d="M1290.2 848.8 L1388.7 858.8 L1477.7 868.4 L1566.7 876 L1700 884.1 L1768.7 889 L1824 892.2 L1906.5 894.6 L1947.7 896.4 L1988.8 897 L2065.5 899.6 L2065.5 879.8 L1988.8 875.2 L1947.7 872.7 L1906.5 869.9 L1824 871.6 L1768.7 872.5 L1700 871.3 L1566.7 864.5 L1477.7 857.6 L1388.7 849.8 L1290.2 842.5Z" fill="#000"/>
<text transform="translate(1314.5 499.3) rotate(-32.7)" x="0.5" y="15.4" font-size="44.3" letter-spacing="1.1" text-anchor="middle">150</text>
<text transform="translate(1420.2 527.8) rotate(-25.5)" x="0.5" y="15.4" font-size="44.3" letter-spacing="1.1" text-anchor="middle">140</text>
<text transform="translate(1585.7 510.2) rotate(-31.8)" x="0.5" y="15.4" font-size="44.3" letter-spacing="1.1" text-anchor="middle">134.156</text>
<text transform="translate(1676.3 568.5) rotate(-23.0)" x="0.5" y="15.4" font-size="44.3" letter-spacing="1.1" text-anchor="middle">130</text>
<text transform="translate(1628.1 678.6) rotate(-12.2)" x="0.5" y="15.5" font-size="44.8" letter-spacing="1.1" text-anchor="middle">128.553</text>
<text transform="translate(1833.5 581.0) rotate(56.3)" x="0.5" y="15.4" font-size="44.3" letter-spacing="1.1" text-anchor="middle">128.553</text>
<text transform="translate(1988.7 570.0) rotate(58.8)" x="0.5" y="15.4" font-size="44.3" letter-spacing="1.1" text-anchor="middle">126.139</text>
</g>
</g>
<text class="b" font-size="88" transform="translate(78.9 1046) rotate(-90) scale(0.9696 0.991)">y [m]</text>
<text class="b" font-size="88" transform="translate(1158.6 2015.8) scale(0.99 1)">x [m]</text>
<rect x="240.6" y="27.3" width="2044.5" height="1834.0" fill="none" stroke="#000" stroke-width="8.8"/>
<g stroke="#000">
<line x1="322.1" x2="322.1" y1="1834.0" y2="1857.3" stroke-width="2.7" stroke="#222"/>
<line x1="404.4" x2="404.4" y1="1815.8" y2="1861.3" stroke-width="8.8"/>
<line x1="488.5" x2="488.5" y1="1834.0" y2="1857.3" stroke-width="2.7" stroke="#222"/>
<line x1="573.5" x2="573.5" y1="1834.0" y2="1857.3" stroke-width="2.7" stroke="#222"/>
<line x1="657.1" x2="657.1" y1="1834.0" y2="1857.3" stroke-width="2.7" stroke="#222"/>
<line x1="740.3" x2="740.3" y1="1834.0" y2="1857.3" stroke-width="2.7" stroke="#222"/>
<line x1="824.6" x2="824.6" y1="1815.8" y2="1861.3" stroke-width="8.8"/>
<line x1="908.7" x2="908.7" y1="1834.0" y2="1857.3" stroke-width="2.7" stroke="#222"/>
<line x1="992.1" x2="992.1" y1="1834.0" y2="1857.3" stroke-width="2.7" stroke="#222"/>
<line x1="1077.5" x2="1077.5" y1="1834.0" y2="1857.3" stroke-width="2.7" stroke="#222"/>
<line x1="1160.3" x2="1160.3" y1="1834.0" y2="1857.3" stroke-width="2.7" stroke="#222"/>
<line x1="1242.6" x2="1242.6" y1="1815.8" y2="1861.3" stroke-width="8.8"/>
<line x1="1329.9" x2="1329.9" y1="1834.0" y2="1857.3" stroke-width="2.7" stroke="#222"/>
<line x1="1413.2" x2="1413.2" y1="1834.0" y2="1857.3" stroke-width="2.7" stroke="#222"/>
<line x1="1498.3" x2="1498.3" y1="1834.0" y2="1857.3" stroke-width="2.7" stroke="#222"/>
<line x1="1581" x2="1581" y1="1834.0" y2="1857.3" stroke-width="2.7" stroke="#222"/>
<line x1="1663.8" x2="1663.8" y1="1815.8" y2="1861.3" stroke-width="8.8"/>
<line x1="1750.2" x2="1750.2" y1="1834.0" y2="1857.3" stroke-width="2.7" stroke="#222"/>
<line x1="1833.6" x2="1833.6" y1="1834.0" y2="1857.3" stroke-width="2.7" stroke="#222"/>
<line x1="1916.7" x2="1916.7" y1="1834.0" y2="1857.3" stroke-width="2.7" stroke="#222"/>
<line x1="2001.5" x2="2001.5" y1="1834.0" y2="1857.3" stroke-width="2.7" stroke="#222"/>
<line x1="2084" x2="2084" y1="1815.8" y2="1861.3" stroke-width="8.8"/>
<line x1="2168.5" x2="2168.5" y1="1834.0" y2="1857.3" stroke-width="2.7" stroke="#222"/>
<line x1="2253.6" x2="2253.6" y1="1834.0" y2="1857.3" stroke-width="2.7" stroke="#222"/>
<line y1="1795.4" y2="1795.4" x1="240.6" x2="288.8" stroke-width="8.8"/>
<line y1="1715.2" y2="1715.2" x1="244.6" x2="270.6" stroke-width="2.7" stroke="#222"/>
<line y1="1630.5" y2="1630.5" x1="244.6" x2="270.6" stroke-width="2.7" stroke="#222"/>
<line y1="1549.3" y2="1549.3" x1="244.6" x2="270.6" stroke-width="2.7" stroke="#222"/>
<line y1="1467" y2="1467" x1="244.6" x2="270.6" stroke-width="2.7" stroke="#222"/>
<line y1="1382.3" y2="1382.3" x1="240.6" x2="288.8" stroke-width="8.8"/>
<line y1="1301.1" y2="1301.1" x1="244.6" x2="270.6" stroke-width="2.7" stroke="#222"/>
<line y1="1219.9" y2="1219.9" x1="244.6" x2="270.6" stroke-width="2.7" stroke="#222"/>
<line y1="1135.5" y2="1135.5" x1="244.6" x2="270.6" stroke-width="2.7" stroke="#222"/>
<line y1="1054" y2="1054" x1="244.6" x2="270.6" stroke-width="2.7" stroke="#222"/>
<line y1="970.1" y2="970.1" x1="240.6" x2="288.8" stroke-width="8.8"/>
<line y1="887.8" y2="887.8" x1="244.6" x2="270.6" stroke-width="2.7" stroke="#222"/>
<line y1="805.5" y2="805.5" x1="244.6" x2="270.6" stroke-width="2.7" stroke="#222"/>
<line y1="724" y2="724" x1="244.6" x2="270.6" stroke-width="2.7" stroke="#222"/>
<line y1="639.6" y2="639.6" x1="244.6" x2="270.6" stroke-width="2.7" stroke="#222"/>
<line y1="556.5" y2="556.5" x1="240.6" x2="288.8" stroke-width="8.8"/>
<line y1="473.3" y2="473.3" x1="244.6" x2="270.6" stroke-width="2.7" stroke="#222"/>
<line y1="391.6" y2="391.6" x1="244.6" x2="270.6" stroke-width="2.7" stroke="#222"/>
<line y1="309.9" y2="309.9" x1="244.6" x2="270.6" stroke-width="2.7" stroke="#222"/>
<line y1="225.5" y2="225.5" x1="244.6" x2="270.6" stroke-width="2.7" stroke="#222"/>
<line y1="142.9" y2="142.9" x1="240.6" x2="288.8" stroke-width="8.8"/>
<line y1="62" y2="62" x1="244.6" x2="270.6" stroke-width="2.7" stroke="#222"/>
</g>
<rect x="235" y="22" width="5.4" height="7.2" fill="#fdfdfd"/>
<rect x="2284.8" y="22" width="6" height="4.6" fill="#fdfdfd"/>
<path d="M235 1861.5 L235 1867 L241 1867 Z" fill="#fdfdfd"/>
<path d="M2290 1862.5 L2290 1867 L2285.5 1867 Z" fill="#fdfdfd"/>
<rect x="72" y="941" width="150" height="58" fill="#fdfdfd"/>
<text x="214.8" y="167.8" font-size="70.6" text-anchor="end" textLength="142.5" lengthAdjust="spacing">0.15</text>
<text x="214.8" y="581.4" font-size="70.6" text-anchor="end" textLength="101.8" lengthAdjust="spacing">0.1</text>
<text x="214.8" y="995" font-size="70.6" text-anchor="end" textLength="142.5" lengthAdjust="spacing">0.05</text>
<text x="214.8" y="1407.2" font-size="70.6" text-anchor="end" textLength="40.7" lengthAdjust="spacing">0</text>
<text x="214.8" y="1820.3" font-size="70.6" text-anchor="end" textLength="185.3" lengthAdjust="spacing">−0.05</text>
<text x="396.4" y="1934.6" font-size="70.6" text-anchor="middle" textLength="185.3" lengthAdjust="spacing">−0.15</text>
<text x="816.6" y="1934.6" font-size="70.6" text-anchor="middle" textLength="144.6" lengthAdjust="spacing">−0.1</text>
<text x="1234.6" y="1934.6" font-size="70.6" text-anchor="middle" textLength="185.3" lengthAdjust="spacing">−0.05</text>
<text x="1663.8" y="1934.6" font-size="70.6" text-anchor="middle" textLength="40.7" lengthAdjust="spacing">0</text>
<text x="2084" y="1934.6" font-size="70.6" text-anchor="middle" textLength="142.5" lengthAdjust="spacing">0.05</text>
</svg></body></html>
